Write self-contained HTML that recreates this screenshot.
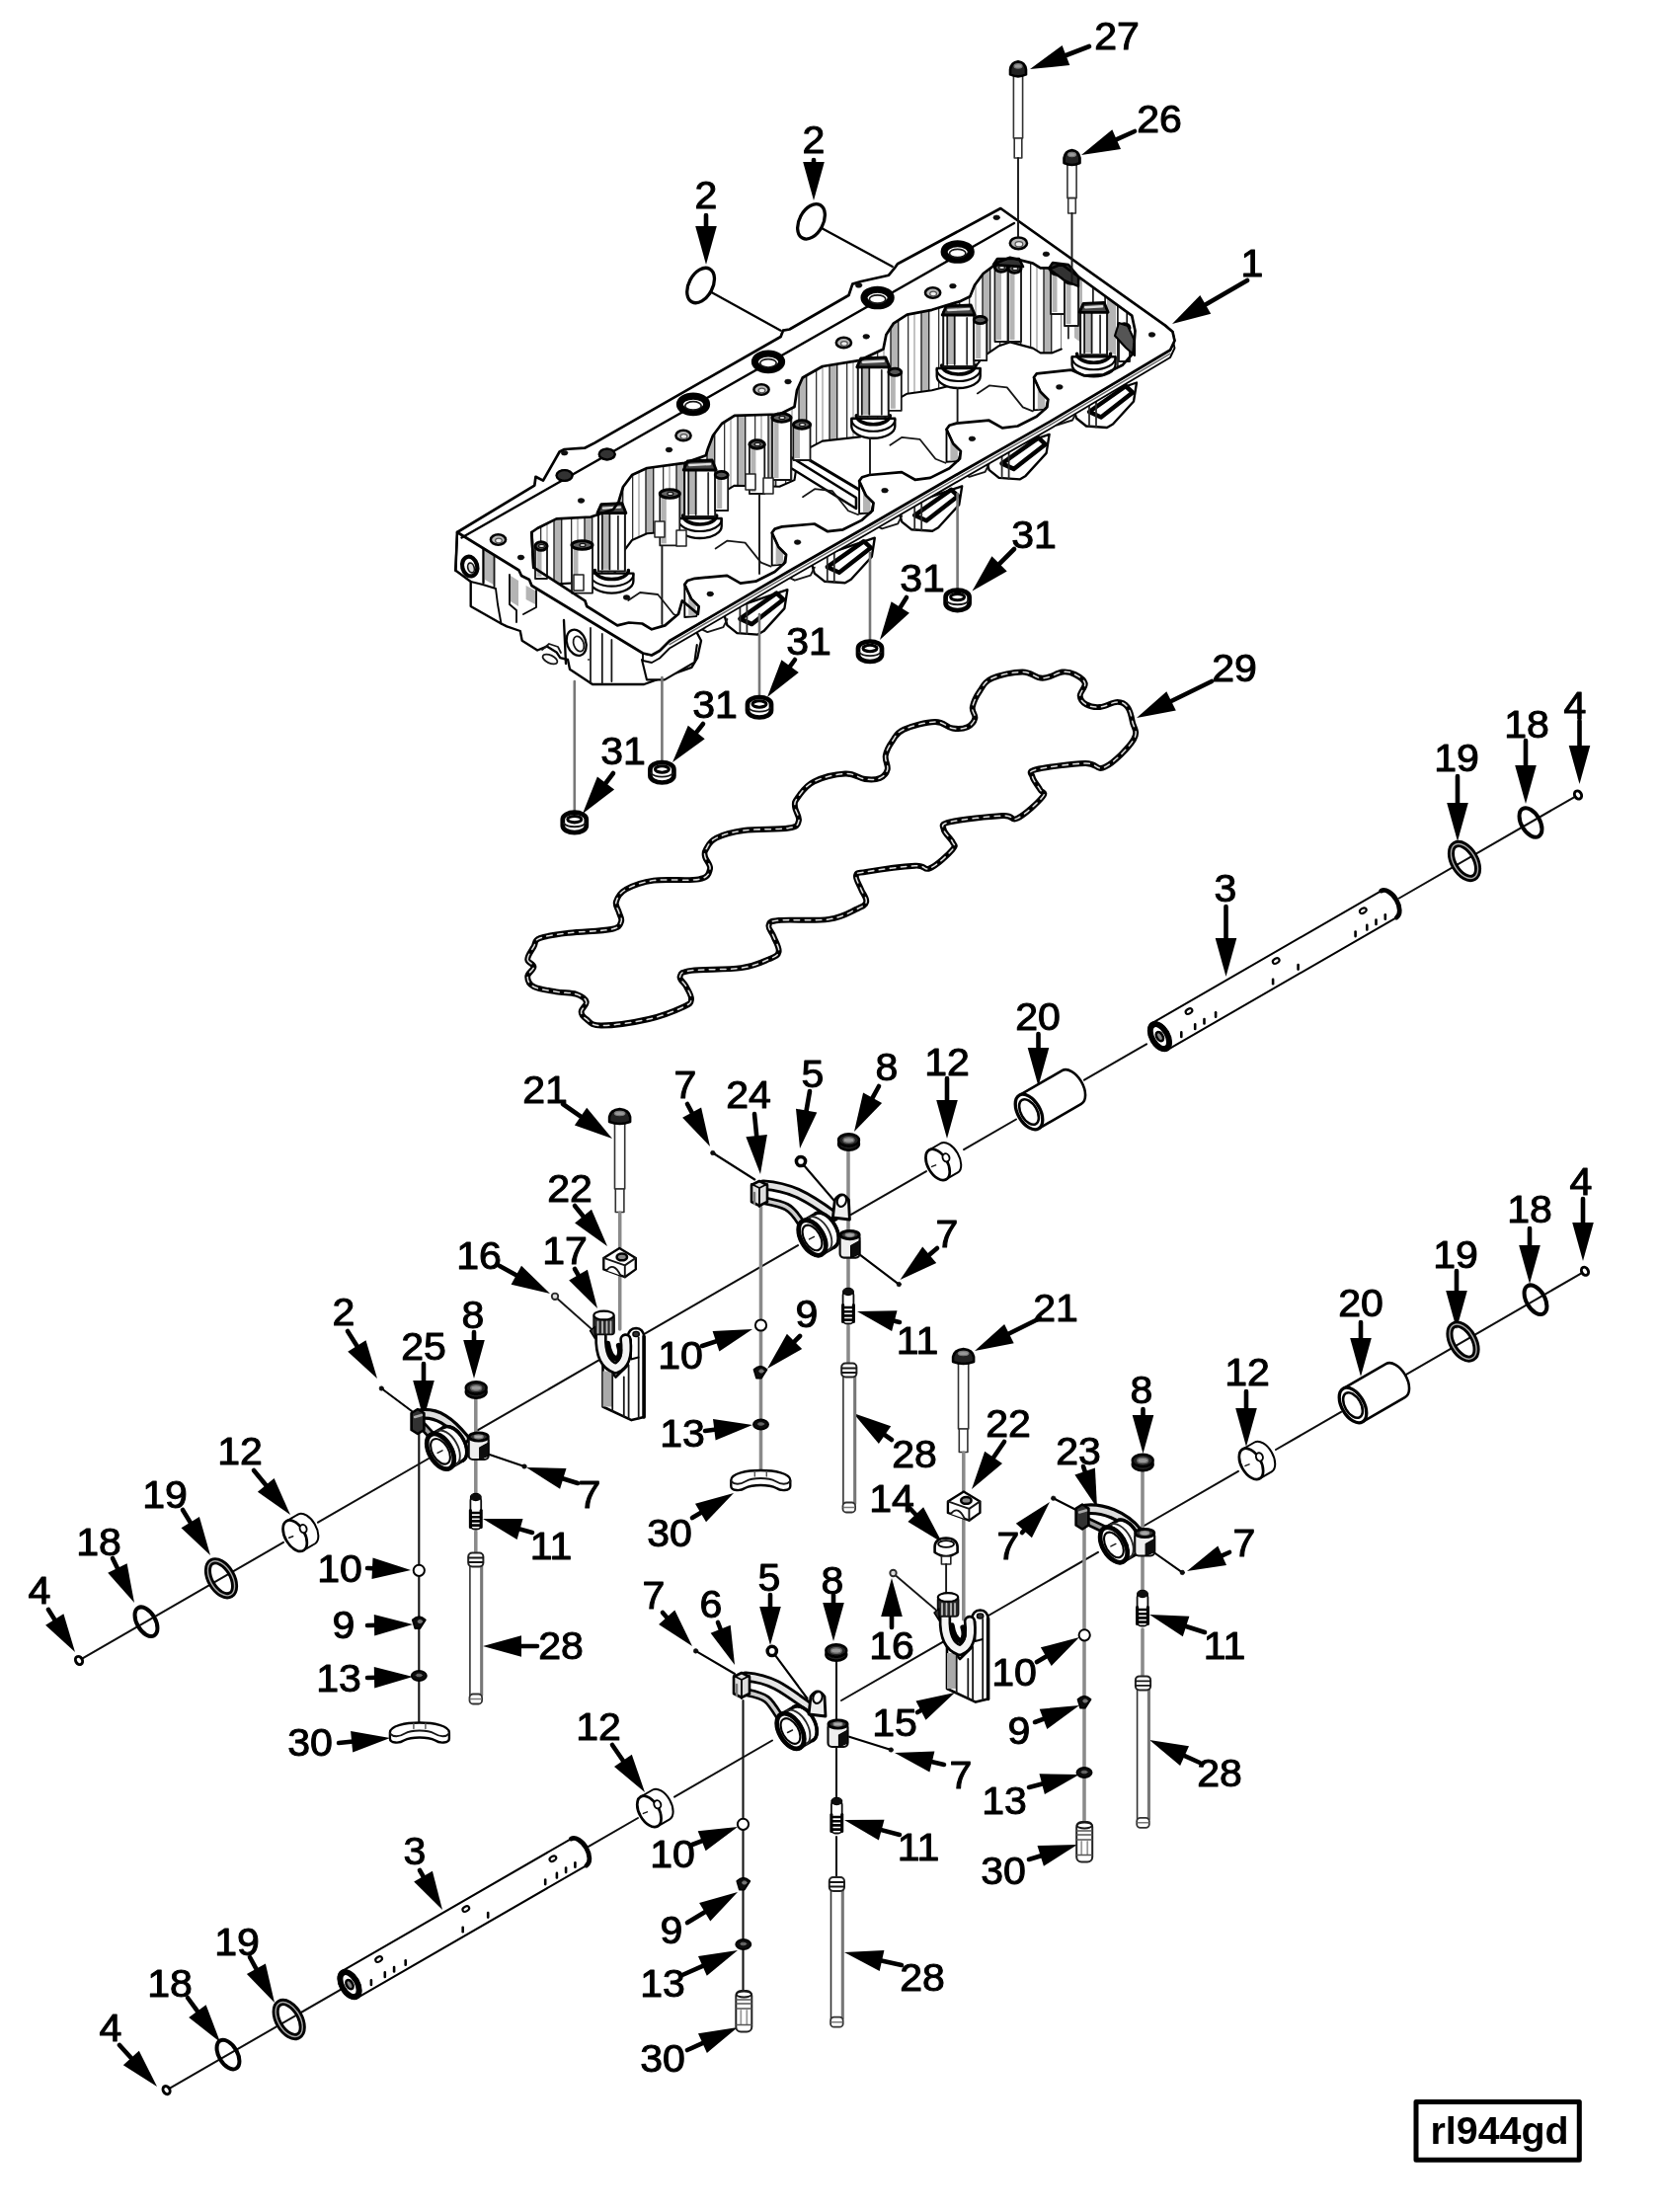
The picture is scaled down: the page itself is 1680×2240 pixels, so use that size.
<!DOCTYPE html>
<html><head><meta charset="utf-8"><title>rl944gd</title>
<style>html,body{margin:0;padding:0;background:#fff}svg{display:block}text{font-family:"Liberation Sans",sans-serif;fill:#000}</style>
</head><body>
<svg width="1680" height="2240" viewBox="0 0 1680 2240">
<defs><filter id="b" x="0" y="0" width="100%" height="100%" filterUnits="userSpaceOnUse"><feGaussianBlur stdDeviation="0.7"/></filter></defs>
<rect width="1680" height="2240" fill="#fff"/>
<g filter="url(#b)" stroke-linecap="round" stroke-linejoin="round">
<path d="M463.0,539.0 L461.2,577.5 L476.7,589.0 L476.7,614.0 L507.5,631.5 L513.3,634.4 L526.8,639.0 L528.7,648.8 L544.2,658.5 L553.8,654.6 L563.5,660.4 L567.3,666.2 L575.0,668.0 L577.0,677.8 L600.0,693.0 L652.2,693.0 L667.6,687.4 L700.4,675.8 L706.2,666.2 L710.0,648.8 L700.0,630.0 L540.0,570.0 Z" fill="#fff" stroke="#000" stroke-width="2.36" />
<path d="M491.0,556.0 L499.8,561.0 L499.8,592.0 L491.0,587.0 Z" fill="#b4b4b4" stroke="none" stroke-width="0.1" />
<path d="M517.0,583.0 L525.0,588.0 L525.0,614.0 L517.0,609.0 Z" fill="#b4b4b4" stroke="none" stroke-width="0.1" />
<path d="M532.6,593.0 L542.0,598.0 L542.0,612.0 L532.6,607.0 Z" fill="#b4b4b4" stroke="none" stroke-width="0.1" />
<line x1="489.5" y1="555.0" x2="489.5" y2="590.0" stroke="#000" stroke-width="2.36"/>
<line x1="500.5" y1="561.0" x2="500.5" y2="594.0" stroke="#161616" stroke-width="1.888"/>
<path d="M476.7,589.0 L489.0,592.0 L502.0,596.0 L504.0,612.0 L507.5,631.5" fill="none" stroke="#060606" stroke-width="1.888" />
<path d="M516.0,582.0 L516.0,612.0 L523.0,618.0 L523.0,630.0" fill="none" stroke="#060606" stroke-width="1.888" />
<path d="M543.0,598.0 L543.0,615.0 L530.0,622.0" fill="none" stroke="#060606" stroke-width="1.888" />
<ellipse cx="475.7" cy="573.6" rx="7.5" ry="10" transform="rotate(-15 475.7 573.6)" fill="#fff" stroke="#000" stroke-width="4.248"/>
<ellipse cx="477.0" cy="575.0" rx="3.2" ry="5" transform="rotate(-15 477.0 575.0)" fill="#ddd" stroke="#161616" stroke-width="1.652"/>
<ellipse cx="583.7" cy="650.8" rx="9.5" ry="13.5" transform="rotate(-20 583.7 650.8)" fill="#fff" stroke="#060606" stroke-width="2.36"/>
<ellipse cx="586.0" cy="652.0" rx="5" ry="8" transform="rotate(-20 586.0 652.0)" fill="#fff" stroke="#161616" stroke-width="1.77"/>
<path d="M571.0,628.0 L573.0,672.0" fill="none" stroke="#060606" stroke-width="2.36" />
<line x1="598.0" y1="636.0" x2="598.0" y2="692.0" stroke="#161616" stroke-width="1.77"/>
<line x1="609.8" y1="642.0" x2="609.8" y2="692.0" stroke="#161616" stroke-width="1.77"/>
<line x1="619.4" y1="648.0" x2="619.4" y2="690.0" stroke="#161616" stroke-width="1.77"/>
<line x1="596.0" y1="668.0" x2="596.0" y2="668.0" stroke="#161616" stroke-width="1.77"/>
<path d="M549.0,658.0 L556.0,652.0 L565.0,655.0 L568.0,661.0" fill="none" stroke="#161616" stroke-width="1.77" />
<ellipse cx="557.0" cy="667.5" rx="8" ry="4" transform="rotate(25 557.0 667.5)" fill="#fff" stroke="#161616" stroke-width="1.77"/>
<path d="M1086.0,409.5 L1090.0,423.5 L1100.0,431.5 L1121.0,433.0 L1127.0,429.5 L1148.0,406.5 L1151.0,387.5 Z" fill="#fff" stroke="#000" stroke-width="2.36" />
<path d="M1103.0,417.0 L1115.0,422.5 L1147.0,397.5 L1140.0,391.0 Z" fill="#fff" stroke="#000" stroke-width="4.484" />
<line x1="1103.0" y1="405.5" x2="1103.0" y2="431.5" stroke="#2a2a2a" stroke-width="1.77"/>
<line x1="1110.0" y1="401.5" x2="1110.0" y2="432.5" stroke="#2a2a2a" stroke-width="1.77"/>
<path d="M1060.0,425.5 L1070.0,430.5 L1086.0,425.5 L1090.0,417.5" fill="none" stroke="#161616" stroke-width="1.888" />
<path d="M997.6,461.9 L1001.6,475.9 L1011.6,483.9 L1032.6,485.4 L1038.6,481.9 L1059.6,458.9 L1062.6,439.9 Z" fill="#fff" stroke="#000" stroke-width="2.36" />
<path d="M1014.6,469.4 L1026.6,474.9 L1058.6,449.9 L1051.6,443.4 Z" fill="#fff" stroke="#000" stroke-width="4.484" />
<line x1="1014.6" y1="457.9" x2="1014.6" y2="483.9" stroke="#2a2a2a" stroke-width="1.77"/>
<line x1="1021.6" y1="453.9" x2="1021.6" y2="484.9" stroke="#2a2a2a" stroke-width="1.77"/>
<path d="M971.6,477.9 L981.6,482.9 L997.6,477.9 L1001.6,469.9" fill="none" stroke="#161616" stroke-width="1.888" />
<path d="M909.2,514.3 L913.2,528.3 L923.2,536.3 L944.2,537.8 L950.2,534.3 L971.2,511.3 L974.2,492.3 Z" fill="#fff" stroke="#000" stroke-width="2.36" />
<path d="M926.2,521.8 L938.2,527.3 L970.2,502.3 L963.2,495.8 Z" fill="#fff" stroke="#000" stroke-width="4.484" />
<line x1="926.2" y1="510.3" x2="926.2" y2="536.3" stroke="#2a2a2a" stroke-width="1.77"/>
<line x1="933.2" y1="506.3" x2="933.2" y2="537.3" stroke="#2a2a2a" stroke-width="1.77"/>
<path d="M883.2,530.3 L893.2,535.3 L909.2,530.3 L913.2,522.3" fill="none" stroke="#161616" stroke-width="1.888" />
<path d="M820.8,566.7 L824.8,580.7 L834.8,588.7 L855.8,590.2 L861.8,586.7 L882.8,563.7 L885.8,544.7 Z" fill="#fff" stroke="#000" stroke-width="2.36" />
<path d="M837.8,574.2 L849.8,579.7 L881.8,554.7 L874.8,548.2 Z" fill="#fff" stroke="#000" stroke-width="4.484" />
<line x1="837.8" y1="562.7" x2="837.8" y2="588.7" stroke="#2a2a2a" stroke-width="1.77"/>
<line x1="844.8" y1="558.7" x2="844.8" y2="589.7" stroke="#2a2a2a" stroke-width="1.77"/>
<path d="M794.8,582.7 L804.8,587.7 L820.8,582.7 L824.8,574.7" fill="none" stroke="#161616" stroke-width="1.888" />
<path d="M732.4,619.1 L736.4,633.1 L746.4,641.1 L767.4,642.6 L773.4,639.1 L794.4,616.1 L797.4,597.1 Z" fill="#fff" stroke="#000" stroke-width="2.36" />
<path d="M749.4,626.6 L761.4,632.1 L793.4,607.1 L786.4,600.6 Z" fill="#fff" stroke="#000" stroke-width="4.484" />
<line x1="749.4" y1="615.1" x2="749.4" y2="641.1" stroke="#2a2a2a" stroke-width="1.77"/>
<line x1="756.4" y1="611.1" x2="756.4" y2="642.1" stroke="#2a2a2a" stroke-width="1.77"/>
<path d="M706.4,635.1 L716.4,640.1 L732.4,635.1 L736.4,627.1" fill="none" stroke="#161616" stroke-width="1.888" />
<path d="M650.0,668.0 L655.0,688.4 L673.0,688.4 L703.3,670.6 L705.8,653.0" fill="#fff" stroke="#060606" stroke-width="2.124" />
<path d="M1179.7,329.4 L1187.5,336.0 L1189.5,345.0 L1185.0,354.5 L1063.3,426.8 L974.7,477.2 L881.0,531.5 L800.0,577.8 L678.0,649.0 L668.0,659.0 L660.0,663.5 L651.0,661.5 L651.0,669.0 L660.0,671.0 L668.0,666.5 L678.0,656.5 L800.0,585.3 L881.0,539.0 L974.7,484.7 L1063.3,434.3 L1185.0,362.0 L1189.5,352.5 L1187.5,343.5 L1179.7,336.9 Z" fill="#fff" stroke="#060606" stroke-width="1.888" />
<line x1="1185.0" y1="358.1" x2="1063.3" y2="430.4" stroke="#666" stroke-width="1.416"/>
<line x1="1063.3" y1="430.4" x2="974.7" y2="480.8" stroke="#666" stroke-width="1.416"/>
<line x1="974.7" y1="480.8" x2="881.0" y2="535.1" stroke="#666" stroke-width="1.416"/>
<line x1="881.0" y1="535.1" x2="800.0" y2="581.4" stroke="#666" stroke-width="1.416"/>
<line x1="800.0" y1="581.4" x2="678.0" y2="652.6" stroke="#666" stroke-width="1.416"/>
<path d="M463.0,539.0 L541.3,491.6 L542.5,482.8 L550.0,486.6 L563.0,463.8 L566.6,457.5 L571.6,455.0 L592.0,453.7 L602.0,448.6 L790.6,341.0 L793.0,334.7 L799.5,333.5 L859.5,299.0 L863.3,287.6 L872.0,285.0 L900.0,278.7 L906.3,271.0 L908.9,267.3 L1013.3,211.0 L1179.7,329.4 L1187.5,336.0 L1189.5,345.0 L1185.0,354.5 L1063.3,426.8 L974.7,477.2 L881.0,531.5 L800.0,577.8 L678.0,649.0 L668.0,659.0 L660.0,663.5 L651.0,661.5 L538.4,593.0 L536.0,587.0 L528.0,583.0 L525.5,577.5 Z" fill="#fff" stroke="#000" stroke-width="2.7139999999999995" />
<line x1="467.5" y1="544.5" x2="1027.0" y2="226.0" stroke="#000" stroke-width="2.36"/>
<line x1="463.0" y1="539.0" x2="461.5" y2="578.0" stroke="#000" stroke-width="2.36"/>
<ellipse cx="702.0" cy="409.4" rx="13.6" ry="8.3" transform="rotate(0 702.0 409.4)" fill="#fff" stroke="#000" stroke-width="7.08"/>
<ellipse cx="702.0" cy="410.9" rx="8.2" ry="4.2" transform="rotate(0 702.0 410.9)" fill="#fff" stroke="#161616" stroke-width="1.652"/>
<ellipse cx="778.0" cy="366.3" rx="13.6" ry="8.3" transform="rotate(0 778.0 366.3)" fill="#fff" stroke="#000" stroke-width="7.08"/>
<ellipse cx="778.0" cy="367.8" rx="8.2" ry="4.2" transform="rotate(0 778.0 367.8)" fill="#fff" stroke="#161616" stroke-width="1.652"/>
<ellipse cx="888.6" cy="301.5" rx="13.6" ry="8.3" transform="rotate(0 888.6 301.5)" fill="#fff" stroke="#000" stroke-width="7.08"/>
<ellipse cx="888.6" cy="303.0" rx="8.2" ry="4.2" transform="rotate(0 888.6 303.0)" fill="#fff" stroke="#161616" stroke-width="1.652"/>
<ellipse cx="969.7" cy="255.0" rx="13.6" ry="8.3" transform="rotate(0 969.7 255.0)" fill="#fff" stroke="#000" stroke-width="7.08"/>
<ellipse cx="969.7" cy="256.5" rx="8.2" ry="4.2" transform="rotate(0 969.7 256.5)" fill="#fff" stroke="#161616" stroke-width="1.652"/>
<ellipse cx="1031.4" cy="246.3" rx="8.6" ry="5.8" transform="rotate(0 1031.4 246.3)" fill="#bbb" stroke="#060606" stroke-width="2.596"/>
<ellipse cx="1031.9" cy="247.3" rx="3.87" ry="2.61" transform="rotate(0 1031.9 247.3)" fill="#eee" stroke="#555" stroke-width="1.18"/>
<ellipse cx="944.6" cy="296.5" rx="7.6" ry="5.2" transform="rotate(0 944.6 296.5)" fill="#bbb" stroke="#060606" stroke-width="2.596"/>
<ellipse cx="945.1" cy="297.5" rx="3.42" ry="2.3400000000000003" transform="rotate(0 945.1 297.5)" fill="#eee" stroke="#555" stroke-width="1.18"/>
<ellipse cx="854.4" cy="347.0" rx="7.6" ry="5.2" transform="rotate(0 854.4 347.0)" fill="#bbb" stroke="#060606" stroke-width="2.596"/>
<ellipse cx="854.9" cy="348.0" rx="3.42" ry="2.3400000000000003" transform="rotate(0 854.9 348.0)" fill="#eee" stroke="#555" stroke-width="1.18"/>
<ellipse cx="771.0" cy="394.5" rx="7.6" ry="5.2" transform="rotate(0 771.0 394.5)" fill="#bbb" stroke="#060606" stroke-width="2.596"/>
<ellipse cx="771.5" cy="395.5" rx="3.42" ry="2.3400000000000003" transform="rotate(0 771.5 395.5)" fill="#eee" stroke="#555" stroke-width="1.18"/>
<ellipse cx="692.0" cy="441.0" rx="7.6" ry="5.2" transform="rotate(0 692.0 441.0)" fill="#bbb" stroke="#060606" stroke-width="2.596"/>
<ellipse cx="692.5" cy="442.0" rx="3.42" ry="2.3400000000000003" transform="rotate(0 692.5 442.0)" fill="#eee" stroke="#555" stroke-width="1.18"/>
<ellipse cx="614.7" cy="460.0" rx="7.6" ry="5.2" transform="rotate(0 614.7 460.0)" fill="#bbb" stroke="#060606" stroke-width="2.596"/>
<ellipse cx="615.2" cy="461.0" rx="3.42" ry="2.3400000000000003" transform="rotate(0 615.2 461.0)" fill="#eee" stroke="#555" stroke-width="1.18"/>
<ellipse cx="571.6" cy="481.5" rx="7.6" ry="5.2" transform="rotate(0 571.6 481.5)" fill="#bbb" stroke="#060606" stroke-width="2.596"/>
<ellipse cx="572.1" cy="482.5" rx="3.42" ry="2.3400000000000003" transform="rotate(0 572.1 482.5)" fill="#eee" stroke="#555" stroke-width="1.18"/>
<ellipse cx="504.5" cy="546.5" rx="7.6" ry="5.2" transform="rotate(0 504.5 546.5)" fill="#bbb" stroke="#060606" stroke-width="2.596"/>
<ellipse cx="505.0" cy="547.5" rx="3.42" ry="2.3400000000000003" transform="rotate(0 505.0 547.5)" fill="#eee" stroke="#555" stroke-width="1.18"/>
<ellipse cx="614.7" cy="460.0" rx="8" ry="5.4" transform="rotate(0 614.7 460.0)" fill="#333" stroke="#000" stroke-width="2.36"/>
<ellipse cx="571.6" cy="481.5" rx="8" ry="5.4" transform="rotate(0 571.6 481.5)" fill="#333" stroke="#000" stroke-width="2.36"/>
<ellipse cx="1059.4" cy="257.3" rx="3.3" ry="2.4" transform="rotate(0 1059.4 257.3)" fill="#111" stroke="#000" stroke-width="0.5"/>
<ellipse cx="1009.2" cy="220.3" rx="3.3" ry="2.4" transform="rotate(0 1009.2 220.3)" fill="#111" stroke="#000" stroke-width="0.5"/>
<ellipse cx="964.9" cy="289.7" rx="3.3" ry="2.4" transform="rotate(0 964.9 289.7)" fill="#111" stroke="#000" stroke-width="0.5"/>
<ellipse cx="877.2" cy="340.8" rx="3.3" ry="2.4" transform="rotate(0 877.2 340.8)" fill="#111" stroke="#000" stroke-width="0.5"/>
<ellipse cx="798.0" cy="386.5" rx="3.3" ry="2.4" transform="rotate(0 798.0 386.5)" fill="#111" stroke="#000" stroke-width="0.5"/>
<ellipse cx="677.5" cy="455.5" rx="3.3" ry="2.4" transform="rotate(0 677.5 455.5)" fill="#111" stroke="#000" stroke-width="0.5"/>
<ellipse cx="588.5" cy="507.0" rx="3.3" ry="2.4" transform="rotate(0 588.5 507.0)" fill="#111" stroke="#000" stroke-width="0.5"/>
<ellipse cx="527.5" cy="564.5" rx="3.3" ry="2.4" transform="rotate(0 527.5 564.5)" fill="#111" stroke="#000" stroke-width="0.5"/>
<ellipse cx="1166.5" cy="338.9" rx="3.3" ry="2.4" transform="rotate(0 1166.5 338.9)" fill="#111" stroke="#000" stroke-width="0.5"/>
<ellipse cx="571.6" cy="458.7" rx="3.3" ry="2.4" transform="rotate(0 571.6 458.7)" fill="#111" stroke="#000" stroke-width="0.5"/>
<ellipse cx="869.6" cy="288.9" rx="3.3" ry="2.4" transform="rotate(0 869.6 288.9)" fill="#111" stroke="#000" stroke-width="0.5"/>
<clipPath id="cav"><path d="M1074.8,267.5 L1065.0,271.4 L1053.6,271.4 L1046.0,266.6 L1022.8,260.8 L1011.0,265.6 L995.7,277.0 L987.0,288.7 L982.3,300.3 L972.6,305.0 L943.7,313.8 L918.6,318.6 L905.0,327.3 L897.4,339.0 L894.5,353.5 L870.9,364.8 L832.9,371.0 L812.7,382.5 L807.0,395.4 L804.5,412.0 L789.4,419.5 L743.8,420.8 L731.0,429.0 L722.0,441.0 L717.0,454.0 L714.7,461.3 L693.2,468.9 L655.2,474.0 L640.0,481.0 L631.0,493.0 L626.5,508.0 L621.0,516.0 L598.2,523.5 L563.5,525.4 L544.2,535.0 L538.4,539.0 L540.3,574.6 L592.4,608.3 L594.3,614.0 L625.2,633.4 L636.8,630.5 L650.3,631.5 L660.0,637.3 L673.4,633.4 L687.0,621.8 L690.8,608.3 L706.8,621.8 L707.7,614.1 L700.0,606.4 L693.3,591.9 L696.2,588.0 L703.5,585.8 L736.3,582.9 L749.8,590.6 L765.3,588.7 L784.6,579.0 L795.2,569.4 L796.1,561.7 L788.4,554.0 L781.7,539.5 L784.6,535.6 L791.9,533.4 L824.7,530.5 L838.2,538.2 L853.7,536.3 L873.0,526.6 L883.6,517.0 L884.5,509.3 L876.8,501.6 L870.1,487.1 L873.0,483.2 L880.3,481.0 L913.1,478.1 L926.6,485.8 L942.1,483.9 L961.4,474.2 L972.0,464.6 L972.9,456.9 L965.2,449.2 L958.5,434.7 L961.4,430.8 L968.7,428.6 L1001.5,425.7 L1015.0,433.4 L1030.5,431.5 L1049.8,421.8 L1060.4,412.2 L1061.3,404.5 L1053.6,396.8 L1046.9,382.3 L1049.8,378.4 L1084.5,374.6 L1098.0,380.4 L1117.3,379.4 L1136.6,369.8 L1147.2,358.2 L1148.0,354.0 L1149.5,335.0 L1146.2,319.6 Z"/></clipPath>
<pattern id="stripes" width="31" height="10" patternUnits="userSpaceOnUse"><rect width="31" height="10" fill="#fff"/><rect x="3" y="0" width="7.5" height="10" fill="#b4b4b4"/><rect x="2.3" width="1.4" height="10" fill="#222"/><rect x="10" width="1.4" height="10" fill="#222"/><rect x="20" width="1.3" height="10" fill="#333"/><rect x="26.5" width="1" height="10" fill="#888"/></pattern>
<path d="M1074.8,267.5 L1065.0,271.4 L1053.6,271.4 L1046.0,266.6 L1022.8,260.8 L1011.0,265.6 L995.7,277.0 L987.0,288.7 L982.3,300.3 L972.6,305.0 L943.7,313.8 L918.6,318.6 L905.0,327.3 L897.4,339.0 L894.5,353.5 L870.9,364.8 L832.9,371.0 L812.7,382.5 L807.0,395.4 L804.5,412.0 L789.4,419.5 L743.8,420.8 L731.0,429.0 L722.0,441.0 L717.0,454.0 L714.7,461.3 L693.2,468.9 L655.2,474.0 L640.0,481.0 L631.0,493.0 L626.5,508.0 L621.0,516.0 L598.2,523.5 L563.5,525.4 L544.2,535.0 L538.4,539.0 L540.3,574.6 L592.4,608.3 L594.3,614.0 L625.2,633.4 L636.8,630.5 L650.3,631.5 L660.0,637.3 L673.4,633.4 L687.0,621.8 L690.8,608.3 L706.8,621.8 L707.7,614.1 L700.0,606.4 L693.3,591.9 L696.2,588.0 L703.5,585.8 L736.3,582.9 L749.8,590.6 L765.3,588.7 L784.6,579.0 L795.2,569.4 L796.1,561.7 L788.4,554.0 L781.7,539.5 L784.6,535.6 L791.9,533.4 L824.7,530.5 L838.2,538.2 L853.7,536.3 L873.0,526.6 L883.6,517.0 L884.5,509.3 L876.8,501.6 L870.1,487.1 L873.0,483.2 L880.3,481.0 L913.1,478.1 L926.6,485.8 L942.1,483.9 L961.4,474.2 L972.0,464.6 L972.9,456.9 L965.2,449.2 L958.5,434.7 L961.4,430.8 L968.7,428.6 L1001.5,425.7 L1015.0,433.4 L1030.5,431.5 L1049.8,421.8 L1060.4,412.2 L1061.3,404.5 L1053.6,396.8 L1046.9,382.3 L1049.8,378.4 L1084.5,374.6 L1098.0,380.4 L1117.3,379.4 L1136.6,369.8 L1147.2,358.2 L1148.0,354.0 L1149.5,335.0 L1146.2,319.6 Z" fill="#fff" stroke="#fff" stroke-width="0.1" />
<g clip-path="url(#cav)">
<path d="M1074.8,267.5 L1065.0,271.4 L1053.6,271.4 L1046.0,266.6 L1022.8,260.8 L1011.0,265.6 L995.7,277.0 L987.0,288.7 L982.3,300.3 L972.6,305.0 L943.7,313.8 L918.6,318.6 L905.0,327.3 L897.4,339.0 L894.5,353.5 L870.9,364.8 L832.9,371.0 L812.7,382.5 L807.0,395.4 L804.5,412.0 L789.4,419.5 L743.8,420.8 L731.0,429.0 L722.0,441.0 L717.0,454.0 L714.7,461.3 L693.2,468.9 L655.2,474.0 L640.0,481.0 L631.0,493.0 L626.5,508.0 L621.0,516.0 L598.2,523.5 L563.5,525.4 L544.2,535.0 L538.4,539.0 L538.4,605.0 L544.2,601.0 L563.5,591.4 L598.2,589.5 L621.0,582.0 L626.5,574.0 L631.0,559.0 L640.0,547.0 L655.2,540.3 L693.2,537.2 L714.7,530.7 L717.0,523.5 L722.0,510.8 L731.0,499.3 L743.8,491.7 L789.4,492.8 L804.5,486.1 L807.0,469.7 L812.7,457.1 L832.9,446.6 L870.9,442.4 L894.5,432.4 L897.4,418.0 L905.0,406.7 L918.6,398.7 L943.7,395.3 L972.6,388.0 L982.3,383.8 L987.0,372.4 L995.7,361.2 L1011.0,350.6 L1022.8,346.4 L1046.0,352.6 L1053.6,357.4 L1065.0,357.4 L1074.8,353.5 Z" fill="url(#stripes)" stroke="none" stroke-width="0.1" />
<path d="M1074.8,267.5 L1146.2,319.6 L1148.0,372.0 L1074.8,353.5 Z" fill="#fff" stroke="none" stroke-width="0.1" />
<line x1="1081.9" y1="272.7" x2="1081.9" y2="342.7" stroke="#161616" stroke-width="1.652"/>
<line x1="1094.8" y1="282.1" x2="1094.8" y2="352.1" stroke="#161616" stroke-width="1.652"/>
<line x1="1106.9" y1="290.9" x2="1106.9" y2="360.9" stroke="#161616" stroke-width="1.652"/>
<line x1="1119.1" y1="299.8" x2="1119.1" y2="369.8" stroke="#161616" stroke-width="1.652"/>
<line x1="1131.9" y1="309.2" x2="1131.9" y2="379.2" stroke="#161616" stroke-width="1.652"/>
<line x1="1141.2" y1="316.0" x2="1141.2" y2="386.0" stroke="#161616" stroke-width="1.652"/>
<path d="M1088.0,277.0 L1096.0,283.0 L1096.0,348.0 L1088.0,342.0 Z" fill="#b4b4b4" stroke="none" stroke-width="0.1" />
<path d="M1121.0,301.0 L1130.0,307.5 L1130.0,360.0 L1121.0,354.0 Z" fill="#b4b4b4" stroke="none" stroke-width="0.1" />
<path d="M1074.8,353.5 L1065.0,357.4 L1053.6,357.4 L1046.0,352.6 L1022.8,346.4 L1011.0,350.6 L995.7,361.2 L987.0,372.4 L982.3,383.8 L972.6,388.0 L943.7,395.3 L918.6,398.7 L905.0,406.7 L897.4,418.0 L894.5,432.4 L870.9,442.4 L832.9,446.6 L812.7,457.1 L807.0,469.7 L804.5,486.1 L789.4,492.8 L743.8,491.7 L731.0,499.3 L722.0,510.8 L717.0,523.5 L714.7,530.7 L693.2,537.2 L655.2,540.3 L640.0,547.0 L631.0,559.0 L626.5,574.0 L621.0,582.0 L598.2,589.5 L563.5,591.4 L544.2,601.0 L538.4,605.0" fill="none" stroke="#060606" stroke-width="2.124" />
<path d="M801.0,463.0 L867.0,504.0 L867.0,515.0 L801.0,474.0 Z" fill="#fff" stroke="#000" stroke-width="2.596" />
<line x1="809.0" y1="459.5" x2="872.0" y2="497.0" stroke="#000" stroke-width="3.068"/>
<path d="M989.8,398.4 L1001.8,390.4 L1019.8,392.4 L1035.8,412.4 L1045.8,416.4" fill="none" stroke="#161616" stroke-width="1.77" />
<path d="M901.4,450.8 L913.4,442.8 L931.4,444.8 L947.4,464.8 L957.4,468.8" fill="none" stroke="#161616" stroke-width="1.77" />
<path d="M813.0,503.2 L825.0,495.2 L843.0,497.2 L859.0,517.2 L869.0,521.2" fill="none" stroke="#161616" stroke-width="1.77" />
<path d="M724.6,555.6 L736.6,547.6 L754.6,549.6 L770.6,569.6 L780.6,573.6" fill="none" stroke="#161616" stroke-width="1.77" />
<path d="M636.2,608.0 L648.2,600.0 L666.2,602.0 L682.2,622.0 L692.2,626.0" fill="none" stroke="#161616" stroke-width="1.77" />
</g>
<rect x="1007.5" y="271.0" width="13.0" height="75.0" fill="#fff" stroke="#151515" stroke-width="1.8"/>
<rect x="1009.0" y="274.0" width="5" height="70.0" fill="#b4b4b4"/>
<ellipse cx="1014.0" cy="271.0" rx="6.5" ry="4.2" transform="rotate(0 1014.0 271.0)" fill="#666" stroke="#000" stroke-width="3.068"/>
<ellipse cx="1014.5" cy="271.0" rx="3" ry="1.6" transform="rotate(0 1014.5 271.0)" fill="#ddd" stroke="#161616" stroke-width="1.18"/>
<rect x="1021.0" y="272.0" width="13.0" height="74.0" fill="#fff" stroke="#151515" stroke-width="1.8"/>
<rect x="1022.5" y="275.0" width="5" height="69.0" fill="#b4b4b4"/>
<ellipse cx="1027.5" cy="272.0" rx="6.5" ry="4.2" transform="rotate(0 1027.5 272.0)" fill="#666" stroke="#000" stroke-width="3.068"/>
<ellipse cx="1028.0" cy="272.0" rx="3" ry="1.6" transform="rotate(0 1028.0 272.0)" fill="#ddd" stroke="#161616" stroke-width="1.18"/>
<path d="M1006,268 L1010,262 L1032,262 L1036,270 Z" fill="#333" stroke="#000" stroke-width="2.596" />
<rect x="1064.0" y="274.0" width="14.0" height="44.0" fill="#fff" stroke="#151515" stroke-width="1.8"/>
<rect x="1065.5" y="277.0" width="5" height="39.0" fill="#b4b4b4"/>
<ellipse cx="1071.0" cy="274.0" rx="7" ry="4.2" transform="rotate(0 1071.0 274.0)" fill="#666" stroke="#000" stroke-width="3.068"/>
<ellipse cx="1071.5" cy="274.0" rx="3" ry="1.6" transform="rotate(0 1071.5 274.0)" fill="#ddd" stroke="#161616" stroke-width="1.18"/>
<rect x="1078.0" y="283.0" width="14.0" height="47.0" fill="#fff" stroke="#151515" stroke-width="1.8"/>
<rect x="1079.5" y="286.0" width="5" height="42.0" fill="#b4b4b4"/>
<ellipse cx="1085.0" cy="283.0" rx="7" ry="4.2" transform="rotate(0 1085.0 283.0)" fill="#666" stroke="#000" stroke-width="3.068"/>
<ellipse cx="1085.5" cy="283.0" rx="3" ry="1.6" transform="rotate(0 1085.5 283.0)" fill="#ddd" stroke="#161616" stroke-width="1.18"/>
<path d="M1062,272 L1066,266 L1082,268 L1092,280 L1092,290 L1078,284 Z" fill="#333" stroke="#000" stroke-width="2.36" />
<path d="M1085.6,361.3 L1085.6,369.3 A22,12 0 0 0 1129.6,369.3 L1129.6,361.3 Z" fill="#fff" stroke="#000" stroke-width="2.36" />
<path d="M1085.6,362.3 A22,12 0 0 0 1129.6,362.3" fill="none" stroke="#060606" stroke-width="2.124" />
<path d="M1090.6,358.3 A17,9 0 0 0 1124.6,358.3" fill="none" stroke="#000" stroke-width="3.54" />
<rect x="1094.1" y="313.3" width="27.0" height="46.0" fill="#fff" stroke="#151515" stroke-width="2"/>
<rect x="1098.1" y="317.3" width="7.5" height="40.0" fill="#b4b4b4"/>
<line x1="1098.1" y1="317.3" x2="1098.1" y2="357.3" stroke="#161616" stroke-width="1.77"/>
<line x1="1105.6" y1="317.3" x2="1105.6" y2="357.3" stroke="#161616" stroke-width="1.77"/>
<line x1="1114.1" y1="319.3" x2="1114.1" y2="357.3" stroke="#2a2a2a" stroke-width="1.77"/>
<path d="M1093.1,316.3 L1097.1,307.3 L1118.1,306.3 L1122.1,316.3 Z" fill="#444" stroke="#000" stroke-width="2.832" />
<line x1="1099.1" y1="311.3" x2="1116.1" y2="310.3" stroke="#ddd" stroke-width="2.36"/>
<rect x="1133.0" y="332.0" width="11.0" height="34.0" fill="#fff" stroke="#151515" stroke-width="1.8"/>
<ellipse cx="1138.5" cy="332.0" rx="5.5" ry="4.2" transform="rotate(0 1138.5 332.0)" fill="#666" stroke="#000" stroke-width="3.068"/>
<ellipse cx="1139.0" cy="332.0" rx="3" ry="1.6" transform="rotate(0 1139.0 332.0)" fill="#ddd" stroke="#161616" stroke-width="1.18"/>
<path d="M1129,340 L1133,327 L1142,330 L1149,345 L1149,360 L1140,352 Z" fill="#555" stroke="#000" stroke-width="2.124" />
<path d="M948.7,373.0 L948.7,381.0 A22,12 0 0 0 992.7,381.0 L992.7,373.0 Z" fill="#fff" stroke="#000" stroke-width="2.36" />
<path d="M948.7,374.0 A22,12 0 0 0 992.7,374.0" fill="none" stroke="#060606" stroke-width="2.124" />
<path d="M953.7,370.0 A17,9 0 0 0 987.7,370.0" fill="none" stroke="#000" stroke-width="3.54" />
<rect x="955.2" y="316.0" width="31.0" height="55.0" fill="#fff" stroke="#151515" stroke-width="2"/>
<rect x="959.2" y="320.0" width="7.5" height="49.0" fill="#b4b4b4"/>
<line x1="959.2" y1="320.0" x2="959.2" y2="369.0" stroke="#161616" stroke-width="1.77"/>
<line x1="966.7" y1="320.0" x2="966.7" y2="369.0" stroke="#161616" stroke-width="1.77"/>
<line x1="979.2" y1="322.0" x2="979.2" y2="369.0" stroke="#2a2a2a" stroke-width="1.77"/>
<path d="M954.2,319.0 L958.2,310.0 L983.2,309.0 L987.2,319.0 Z" fill="#444" stroke="#000" stroke-width="2.832" />
<line x1="960.2" y1="314.0" x2="981.2" y2="313.0" stroke="#ddd" stroke-width="2.36"/>
<rect x="986.2" y="324.0" width="13" height="41.0" fill="#fff" stroke="#151515" stroke-width="1.8"/>
<rect x="988.2" y="326.0" width="5" height="37.0" fill="#b4b4b4"/>
<ellipse cx="992.7" cy="324.0" rx="6.5" ry="3.6" transform="rotate(0 992.7 324.0)" fill="#555" stroke="#000" stroke-width="2.832"/>
<path d="M862.3,423.8 L862.3,431.8 A22,12 0 0 0 906.3,431.8 L906.3,423.8 Z" fill="#fff" stroke="#000" stroke-width="2.36" />
<path d="M862.3,424.8 A22,12 0 0 0 906.3,424.8" fill="none" stroke="#060606" stroke-width="2.124" />
<path d="M867.3,420.8 A17,9 0 0 0 901.3,420.8" fill="none" stroke="#000" stroke-width="3.54" />
<rect x="868.8" y="368.8" width="31.0" height="53.0" fill="#fff" stroke="#151515" stroke-width="2"/>
<rect x="872.8" y="372.8" width="7.5" height="47.0" fill="#b4b4b4"/>
<line x1="872.8" y1="372.8" x2="872.8" y2="419.8" stroke="#161616" stroke-width="1.77"/>
<line x1="880.3" y1="372.8" x2="880.3" y2="419.8" stroke="#161616" stroke-width="1.77"/>
<line x1="892.8" y1="374.8" x2="892.8" y2="419.8" stroke="#2a2a2a" stroke-width="1.77"/>
<path d="M867.8,371.8 L871.8,362.8 L896.8,361.8 L900.8,371.8 Z" fill="#444" stroke="#000" stroke-width="2.832" />
<line x1="873.8" y1="366.8" x2="894.8" y2="365.8" stroke="#ddd" stroke-width="2.36"/>
<rect x="899.8" y="376.8" width="13" height="39.0" fill="#fff" stroke="#151515" stroke-width="1.8"/>
<rect x="901.8" y="378.8" width="5" height="35.0" fill="#b4b4b4"/>
<ellipse cx="906.3" cy="376.8" rx="6.5" ry="3.6" transform="rotate(0 906.3 376.8)" fill="#555" stroke="#000" stroke-width="2.832"/>
<rect x="803.5" y="430.0" width="17.0" height="36.0" fill="#fff" stroke="#151515" stroke-width="1.8"/>
<rect x="805.0" y="433.0" width="5" height="31.0" fill="#b4b4b4"/>
<ellipse cx="812.0" cy="430.0" rx="8.5" ry="4.2" transform="rotate(0 812.0 430.0)" fill="#666" stroke="#000" stroke-width="3.068"/>
<ellipse cx="812.5" cy="430.0" rx="3" ry="1.6" transform="rotate(0 812.5 430.0)" fill="#ddd" stroke="#161616" stroke-width="1.18"/>
<rect x="782.0" y="423.0" width="19.0" height="63.0" fill="#fff" stroke="#151515" stroke-width="1.8"/>
<rect x="783.5" y="426.0" width="5" height="58.0" fill="#b4b4b4"/>
<ellipse cx="791.5" cy="423.0" rx="9.5" ry="4.2" transform="rotate(0 791.5 423.0)" fill="#666" stroke="#000" stroke-width="3.068"/>
<ellipse cx="792.0" cy="423.0" rx="3" ry="1.6" transform="rotate(0 792.0 423.0)" fill="#ddd" stroke="#161616" stroke-width="1.18"/>
<rect x="758.9" y="450.0" width="15.4" height="50.0" fill="#fff" stroke="#151515" stroke-width="1.8"/>
<rect x="760.4" y="453.0" width="5" height="45.0" fill="#b4b4b4"/>
<ellipse cx="766.6" cy="450.0" rx="7.7" ry="4.2" transform="rotate(0 766.6 450.0)" fill="#666" stroke="#000" stroke-width="3.068"/>
<ellipse cx="767.1" cy="450.0" rx="3" ry="1.6" transform="rotate(0 767.1 450.0)" fill="#ddd" stroke="#161616" stroke-width="1.18"/>
<path d="M686.7,525.0 L686.7,533.0 A22,12 0 0 0 730.7,533.0 L730.7,525.0 Z" fill="#fff" stroke="#000" stroke-width="2.36" />
<path d="M686.7,526.0 A22,12 0 0 0 730.7,526.0" fill="none" stroke="#060606" stroke-width="2.124" />
<path d="M691.7,522.0 A17,9 0 0 0 725.7,522.0" fill="none" stroke="#000" stroke-width="3.54" />
<rect x="693.2" y="473.0" width="31.0" height="50.0" fill="#fff" stroke="#151515" stroke-width="2"/>
<rect x="697.2" y="477.0" width="7.5" height="44.0" fill="#b4b4b4"/>
<line x1="697.2" y1="477.0" x2="697.2" y2="521.0" stroke="#161616" stroke-width="1.77"/>
<line x1="704.7" y1="477.0" x2="704.7" y2="521.0" stroke="#161616" stroke-width="1.77"/>
<line x1="717.2" y1="479.0" x2="717.2" y2="521.0" stroke="#2a2a2a" stroke-width="1.77"/>
<path d="M692.2,476.0 L696.2,467.0 L721.2,466.0 L725.2,476.0 Z" fill="#444" stroke="#000" stroke-width="2.832" />
<line x1="698.2" y1="471.0" x2="719.2" y2="470.0" stroke="#ddd" stroke-width="2.36"/>
<rect x="724.2" y="481.0" width="13" height="36.0" fill="#fff" stroke="#151515" stroke-width="1.8"/>
<rect x="726.2" y="483.0" width="5" height="32.0" fill="#b4b4b4"/>
<ellipse cx="730.7" cy="481.0" rx="6.5" ry="3.6" transform="rotate(0 730.7 481.0)" fill="#555" stroke="#000" stroke-width="2.832"/>
<rect x="668.3" y="500.0" width="20.0" height="52.4" fill="#fff" stroke="#151515" stroke-width="1.8"/>
<rect x="669.8" y="503.0" width="5" height="47.4" fill="#b4b4b4"/>
<ellipse cx="678.3" cy="500.0" rx="10" ry="4.2" transform="rotate(0 678.3 500.0)" fill="#666" stroke="#000" stroke-width="3.068"/>
<ellipse cx="678.8" cy="500.0" rx="3" ry="1.6" transform="rotate(0 678.8 500.0)" fill="#ddd" stroke="#161616" stroke-width="1.18"/>
<path d="M597.4,580.6 L597.4,588.6 A22,12 0 0 0 641.4,588.6 L641.4,580.6 Z" fill="#fff" stroke="#000" stroke-width="2.36" />
<path d="M597.4,581.6 A22,12 0 0 0 641.4,581.6" fill="none" stroke="#060606" stroke-width="2.124" />
<path d="M602.4,577.6 A17,9 0 0 0 636.4,577.6" fill="none" stroke="#000" stroke-width="3.54" />
<rect x="605.9" y="516.6" width="27.0" height="62.0" fill="#fff" stroke="#151515" stroke-width="2"/>
<rect x="609.9" y="520.6" width="7.5" height="56.0" fill="#b4b4b4"/>
<line x1="609.9" y1="520.6" x2="609.9" y2="576.6" stroke="#161616" stroke-width="1.77"/>
<line x1="617.4" y1="520.6" x2="617.4" y2="576.6" stroke="#161616" stroke-width="1.77"/>
<line x1="625.9" y1="522.6" x2="625.9" y2="576.6" stroke="#2a2a2a" stroke-width="1.77"/>
<path d="M604.9,519.6 L608.9,510.6 L629.9,509.6 L633.9,519.6 Z" fill="#444" stroke="#000" stroke-width="2.832" />
<line x1="610.9" y1="514.6" x2="627.9" y2="513.6" stroke="#ddd" stroke-width="2.36"/>
<rect x="579.0" y="552.0" width="21.0" height="48.6" fill="#fff" stroke="#151515" stroke-width="1.8"/>
<rect x="580.5" y="555.0" width="5" height="43.6" fill="#b4b4b4"/>
<ellipse cx="589.5" cy="552.0" rx="10.5" ry="4.2" transform="rotate(0 589.5 552.0)" fill="#666" stroke="#000" stroke-width="3.068"/>
<ellipse cx="590.0" cy="552.0" rx="3" ry="1.6" transform="rotate(0 590.0 552.0)" fill="#ddd" stroke="#161616" stroke-width="1.18"/>
<rect x="542.0" y="553.0" width="12.0" height="33.0" fill="#fff" stroke="#151515" stroke-width="1.8"/>
<rect x="543.5" y="556.0" width="5" height="28.0" fill="#b4b4b4"/>
<ellipse cx="548.0" cy="553.0" rx="6" ry="4.2" transform="rotate(0 548.0 553.0)" fill="#666" stroke="#000" stroke-width="3.068"/>
<ellipse cx="548.5" cy="553.0" rx="3" ry="1.6" transform="rotate(0 548.5 553.0)" fill="#ddd" stroke="#161616" stroke-width="1.18"/>
<rect x="663" y="528" width="10" height="16" fill="#fff" stroke="#222" stroke-width="1.5"/>
<rect x="685" y="537" width="10" height="16" fill="#fff" stroke="#222" stroke-width="1.5"/>
<rect x="581" y="582" width="10" height="16" fill="#fff" stroke="#222" stroke-width="1.5"/>
<rect x="755" y="480" width="10" height="16" fill="#fff" stroke="#222" stroke-width="1.5"/>
<rect x="773" y="484" width="10" height="16" fill="#fff" stroke="#222" stroke-width="1.5"/>
<path d="M1046.9,382.3 L1046.9,415.4 L1058.8,414.4 L1061.3,404.5 L1053.6,396.8 Z" fill="#fff" stroke="#060606" stroke-width="1.888" />
<path d="M1050.8,392.4 L1058.3,402.4 L1058.3,413.4 L1050.8,414.4 Z" fill="#b4b4b4" stroke="none" stroke-width="0.1" />
<path d="M958.5,434.7 L958.5,467.8 L970.4,466.8 L972.9,456.9 L965.2,449.2 Z" fill="#fff" stroke="#060606" stroke-width="1.888" />
<path d="M962.4,444.8 L969.9,454.8 L969.9,465.8 L962.4,466.8 Z" fill="#b4b4b4" stroke="none" stroke-width="0.1" />
<path d="M870.1,487.1 L870.1,520.2 L882.0,519.2 L884.5,509.3 L876.8,501.6 Z" fill="#fff" stroke="#060606" stroke-width="1.888" />
<path d="M874.0,497.2 L881.5,507.2 L881.5,518.2 L874.0,519.2 Z" fill="#b4b4b4" stroke="none" stroke-width="0.1" />
<path d="M781.7,539.5 L781.7,572.6 L793.6,571.6 L796.1,561.7 L788.4,554.0 Z" fill="#fff" stroke="#060606" stroke-width="1.888" />
<path d="M785.6,549.6 L793.1,559.6 L793.1,570.6 L785.6,571.6 Z" fill="#b4b4b4" stroke="none" stroke-width="0.1" />
<path d="M693.3,591.9 L693.3,625.0 L705.2,624.0 L707.7,614.1 L700.0,606.4 Z" fill="#fff" stroke="#060606" stroke-width="1.888" />
<path d="M697.2,602.0 L704.7,612.0 L704.7,623.0 L697.2,624.0 Z" fill="#b4b4b4" stroke="none" stroke-width="0.1" />
<path d="M1074.8,267.5 L1065.0,271.4 L1053.6,271.4 L1046.0,266.6 L1022.8,260.8 L1011.0,265.6 L995.7,277.0 L987.0,288.7 L982.3,300.3 L972.6,305.0 L943.7,313.8 L918.6,318.6 L905.0,327.3 L897.4,339.0 L894.5,353.5 L870.9,364.8 L832.9,371.0 L812.7,382.5 L807.0,395.4 L804.5,412.0 L789.4,419.5 L743.8,420.8 L731.0,429.0 L722.0,441.0 L717.0,454.0 L714.7,461.3 L693.2,468.9 L655.2,474.0 L640.0,481.0 L631.0,493.0 L626.5,508.0 L621.0,516.0 L598.2,523.5 L563.5,525.4 L544.2,535.0 L538.4,539.0 L540.3,574.6 L592.4,608.3 L594.3,614.0 L625.2,633.4 L636.8,630.5 L650.3,631.5 L660.0,637.3 L673.4,633.4 L687.0,621.8 L690.8,608.3 L706.8,621.8 L707.7,614.1 L700.0,606.4 L693.3,591.9 L696.2,588.0 L703.5,585.8 L736.3,582.9 L749.8,590.6 L765.3,588.7 L784.6,579.0 L795.2,569.4 L796.1,561.7 L788.4,554.0 L781.7,539.5 L784.6,535.6 L791.9,533.4 L824.7,530.5 L838.2,538.2 L853.7,536.3 L873.0,526.6 L883.6,517.0 L884.5,509.3 L876.8,501.6 L870.1,487.1 L873.0,483.2 L880.3,481.0 L913.1,478.1 L926.6,485.8 L942.1,483.9 L961.4,474.2 L972.0,464.6 L972.9,456.9 L965.2,449.2 L958.5,434.7 L961.4,430.8 L968.7,428.6 L1001.5,425.7 L1015.0,433.4 L1030.5,431.5 L1049.8,421.8 L1060.4,412.2 L1061.3,404.5 L1053.6,396.8 L1046.9,382.3 L1049.8,378.4 L1084.5,374.6 L1098.0,380.4 L1117.3,379.4 L1136.6,369.8 L1147.2,358.2 L1148.0,354.0 L1149.5,335.0 L1146.2,319.6 Z" fill="none" stroke="#000" stroke-width="2.7139999999999995" />
<line x1="538.4" y1="539.0" x2="540.3" y2="574.6" stroke="#000" stroke-width="2.596"/>
<ellipse cx="1072.8" cy="391.9" rx="3.3" ry="2.4" transform="rotate(0 1072.8 391.9)" fill="#111" stroke="#000" stroke-width="0.5"/>
<ellipse cx="984.4" cy="444.3" rx="3.3" ry="2.4" transform="rotate(0 984.4 444.3)" fill="#111" stroke="#000" stroke-width="0.5"/>
<ellipse cx="896.0" cy="496.7" rx="3.3" ry="2.4" transform="rotate(0 896.0 496.7)" fill="#111" stroke="#000" stroke-width="0.5"/>
<ellipse cx="807.6" cy="549.1" rx="3.3" ry="2.4" transform="rotate(0 807.6 549.1)" fill="#111" stroke="#000" stroke-width="0.5"/>
<ellipse cx="719.2" cy="601.5" rx="3.3" ry="2.4" transform="rotate(0 719.2 601.5)" fill="#111" stroke="#000" stroke-width="0.5"/>
<ellipse cx="634.5" cy="605.0" rx="3.3" ry="2.4" transform="rotate(0 634.5 605.0)" fill="#111" stroke="#000" stroke-width="0.5"/>
<line x1="969.6" y1="393.0" x2="969.6" y2="428.0" stroke="#161616" stroke-width="1.888"/>
<line x1="969.6" y1="500.0" x2="969.6" y2="598.0" stroke="#777" stroke-width="2.596"/>
<line x1="881.0" y1="444.0" x2="881.0" y2="480.0" stroke="#161616" stroke-width="1.888"/>
<line x1="881.0" y1="560.0" x2="881.0" y2="650.0" stroke="#777" stroke-width="2.596"/>
<line x1="769.0" y1="500.0" x2="769.0" y2="581.0" stroke="#161616" stroke-width="1.888"/>
<line x1="769.0" y1="622.0" x2="769.0" y2="706.0" stroke="#777" stroke-width="2.596"/>
<line x1="670.4" y1="553.0" x2="670.4" y2="632.0" stroke="#161616" stroke-width="1.888"/>
<line x1="670.4" y1="686.0" x2="670.4" y2="772.0" stroke="#777" stroke-width="2.596"/>
<line x1="581.8" y1="690.0" x2="581.8" y2="823.0" stroke="#777" stroke-width="2.596"/>
<text transform="translate(1131.0 49.6) scale(1.08 1)" font-size="38" text-anchor="middle" stroke="#000" stroke-width="1.0" stroke-linejoin="round">27</text>
<text transform="translate(1174.0 133.6) scale(1.08 1)" font-size="38" text-anchor="middle" stroke="#000" stroke-width="1.0" stroke-linejoin="round">26</text>
<text transform="translate(1268.0 279.6) scale(1.08 1)" font-size="38" text-anchor="middle" stroke="#000" stroke-width="1.0" stroke-linejoin="round">1</text>
<text transform="translate(824.0 154.6) scale(1.08 1)" font-size="38" text-anchor="middle" stroke="#000" stroke-width="1.0" stroke-linejoin="round">2</text>
<text transform="translate(715.0 210.6) scale(1.08 1)" font-size="38" text-anchor="middle" stroke="#000" stroke-width="1.0" stroke-linejoin="round">2</text>
<text transform="translate(1047.0 554.6) scale(1.08 1)" font-size="38" text-anchor="middle" stroke="#000" stroke-width="1.0" stroke-linejoin="round">31</text>
<text transform="translate(934.0 598.6) scale(1.08 1)" font-size="38" text-anchor="middle" stroke="#000" stroke-width="1.0" stroke-linejoin="round">31</text>
<text transform="translate(819.0 662.6) scale(1.08 1)" font-size="38" text-anchor="middle" stroke="#000" stroke-width="1.0" stroke-linejoin="round">31</text>
<text transform="translate(724.0 726.6) scale(1.08 1)" font-size="38" text-anchor="middle" stroke="#000" stroke-width="1.0" stroke-linejoin="round">31</text>
<text transform="translate(631.0 773.6) scale(1.08 1)" font-size="38" text-anchor="middle" stroke="#000" stroke-width="1.0" stroke-linejoin="round">31</text>
<text transform="translate(1250.0 689.6) scale(1.08 1)" font-size="38" text-anchor="middle" stroke="#000" stroke-width="1.0" stroke-linejoin="round">29</text>
<text transform="translate(1595.0 727.6) scale(1.08 1)" font-size="38" text-anchor="middle" stroke="#000" stroke-width="1.0" stroke-linejoin="round">4</text>
<text transform="translate(1546.0 746.6) scale(1.08 1)" font-size="38" text-anchor="middle" stroke="#000" stroke-width="1.0" stroke-linejoin="round">18</text>
<text transform="translate(1475.0 780.6) scale(1.08 1)" font-size="38" text-anchor="middle" stroke="#000" stroke-width="1.0" stroke-linejoin="round">19</text>
<text transform="translate(1241.0 912.6) scale(1.08 1)" font-size="38" text-anchor="middle" stroke="#000" stroke-width="1.0" stroke-linejoin="round">3</text>
<text transform="translate(1051.0 1042.6) scale(1.08 1)" font-size="38" text-anchor="middle" stroke="#000" stroke-width="1.0" stroke-linejoin="round">20</text>
<text transform="translate(959.0 1088.6) scale(1.08 1)" font-size="38" text-anchor="middle" stroke="#000" stroke-width="1.0" stroke-linejoin="round">12</text>
<text transform="translate(898.0 1093.6) scale(1.08 1)" font-size="38" text-anchor="middle" stroke="#000" stroke-width="1.0" stroke-linejoin="round">8</text>
<text transform="translate(959.0 1262.6) scale(1.08 1)" font-size="38" text-anchor="middle" stroke="#000" stroke-width="1.0" stroke-linejoin="round">7</text>
<text transform="translate(929.0 1370.6) scale(1.08 1)" font-size="38" text-anchor="middle" stroke="#000" stroke-width="1.0" stroke-linejoin="round">11</text>
<text transform="translate(1069.0 1337.6) scale(1.08 1)" font-size="38" text-anchor="middle" stroke="#000" stroke-width="1.0" stroke-linejoin="round">21</text>
<text transform="translate(926.0 1485.6) scale(1.08 1)" font-size="38" text-anchor="middle" stroke="#000" stroke-width="1.0" stroke-linejoin="round">28</text>
<text transform="translate(1021.0 1454.6) scale(1.08 1)" font-size="38" text-anchor="middle" stroke="#000" stroke-width="1.0" stroke-linejoin="round">22</text>
<text transform="translate(1092.0 1482.6) scale(1.08 1)" font-size="38" text-anchor="middle" stroke="#000" stroke-width="1.0" stroke-linejoin="round">23</text>
<text transform="translate(903.0 1530.6) scale(1.08 1)" font-size="38" text-anchor="middle" stroke="#000" stroke-width="1.0" stroke-linejoin="round">14</text>
<text transform="translate(1156.0 1420.6) scale(1.08 1)" font-size="38" text-anchor="middle" stroke="#000" stroke-width="1.0" stroke-linejoin="round">8</text>
<text transform="translate(1263.0 1402.6) scale(1.08 1)" font-size="38" text-anchor="middle" stroke="#000" stroke-width="1.0" stroke-linejoin="round">12</text>
<text transform="translate(1378.0 1332.6) scale(1.08 1)" font-size="38" text-anchor="middle" stroke="#000" stroke-width="1.0" stroke-linejoin="round">20</text>
<text transform="translate(1474.0 1283.6) scale(1.08 1)" font-size="38" text-anchor="middle" stroke="#000" stroke-width="1.0" stroke-linejoin="round">19</text>
<text transform="translate(1549.0 1237.6) scale(1.08 1)" font-size="38" text-anchor="middle" stroke="#000" stroke-width="1.0" stroke-linejoin="round">18</text>
<text transform="translate(1601.0 1209.6) scale(1.08 1)" font-size="38" text-anchor="middle" stroke="#000" stroke-width="1.0" stroke-linejoin="round">4</text>
<text transform="translate(552.0 1116.6) scale(1.08 1)" font-size="38" text-anchor="middle" stroke="#000" stroke-width="1.0" stroke-linejoin="round">21</text>
<text transform="translate(694.0 1111.6) scale(1.08 1)" font-size="38" text-anchor="middle" stroke="#000" stroke-width="1.0" stroke-linejoin="round">7</text>
<text transform="translate(758.0 1121.6) scale(1.08 1)" font-size="38" text-anchor="middle" stroke="#000" stroke-width="1.0" stroke-linejoin="round">24</text>
<text transform="translate(823.0 1100.6) scale(1.08 1)" font-size="38" text-anchor="middle" stroke="#000" stroke-width="1.0" stroke-linejoin="round">5</text>
<text transform="translate(577.0 1216.6) scale(1.08 1)" font-size="38" text-anchor="middle" stroke="#000" stroke-width="1.0" stroke-linejoin="round">22</text>
<text transform="translate(485.0 1284.6) scale(1.08 1)" font-size="38" text-anchor="middle" stroke="#000" stroke-width="1.0" stroke-linejoin="round">16</text>
<text transform="translate(572.0 1279.6) scale(1.08 1)" font-size="38" text-anchor="middle" stroke="#000" stroke-width="1.0" stroke-linejoin="round">17</text>
<text transform="translate(348.0 1341.6) scale(1.08 1)" font-size="38" text-anchor="middle" stroke="#000" stroke-width="1.0" stroke-linejoin="round">2</text>
<text transform="translate(429.0 1376.6) scale(1.08 1)" font-size="38" text-anchor="middle" stroke="#000" stroke-width="1.0" stroke-linejoin="round">25</text>
<text transform="translate(479.0 1344.6) scale(1.08 1)" font-size="38" text-anchor="middle" stroke="#000" stroke-width="1.0" stroke-linejoin="round">8</text>
<text transform="translate(689.0 1385.6) scale(1.08 1)" font-size="38" text-anchor="middle" stroke="#000" stroke-width="1.0" stroke-linejoin="round">10</text>
<text transform="translate(817.0 1343.6) scale(1.08 1)" font-size="38" text-anchor="middle" stroke="#000" stroke-width="1.0" stroke-linejoin="round">9</text>
<text transform="translate(691.0 1464.6) scale(1.08 1)" font-size="38" text-anchor="middle" stroke="#000" stroke-width="1.0" stroke-linejoin="round">13</text>
<text transform="translate(243.0 1482.6) scale(1.08 1)" font-size="38" text-anchor="middle" stroke="#000" stroke-width="1.0" stroke-linejoin="round">12</text>
<text transform="translate(167.0 1526.6) scale(1.08 1)" font-size="38" text-anchor="middle" stroke="#000" stroke-width="1.0" stroke-linejoin="round">19</text>
<text transform="translate(597.0 1526.6) scale(1.08 1)" font-size="38" text-anchor="middle" stroke="#000" stroke-width="1.0" stroke-linejoin="round">7</text>
<text transform="translate(100.0 1574.6) scale(1.08 1)" font-size="38" text-anchor="middle" stroke="#000" stroke-width="1.0" stroke-linejoin="round">18</text>
<text transform="translate(40.0 1623.6) scale(1.08 1)" font-size="38" text-anchor="middle" stroke="#000" stroke-width="1.0" stroke-linejoin="round">4</text>
<text transform="translate(344.0 1601.6) scale(1.08 1)" font-size="38" text-anchor="middle" stroke="#000" stroke-width="1.0" stroke-linejoin="round">10</text>
<text transform="translate(348.0 1658.6) scale(1.08 1)" font-size="38" text-anchor="middle" stroke="#000" stroke-width="1.0" stroke-linejoin="round">9</text>
<text transform="translate(343.0 1712.6) scale(1.08 1)" font-size="38" text-anchor="middle" stroke="#000" stroke-width="1.0" stroke-linejoin="round">13</text>
<text transform="translate(314.0 1777.6) scale(1.08 1)" font-size="38" text-anchor="middle" stroke="#000" stroke-width="1.0" stroke-linejoin="round">30</text>
<text transform="translate(558.0 1578.6) scale(1.08 1)" font-size="38" text-anchor="middle" stroke="#000" stroke-width="1.0" stroke-linejoin="round">11</text>
<text transform="translate(568.0 1679.6) scale(1.08 1)" font-size="38" text-anchor="middle" stroke="#000" stroke-width="1.0" stroke-linejoin="round">28</text>
<text transform="translate(678.0 1565.6) scale(1.08 1)" font-size="38" text-anchor="middle" stroke="#000" stroke-width="1.0" stroke-linejoin="round">30</text>
<text transform="translate(662.0 1628.6) scale(1.08 1)" font-size="38" text-anchor="middle" stroke="#000" stroke-width="1.0" stroke-linejoin="round">7</text>
<text transform="translate(720.0 1637.6) scale(1.08 1)" font-size="38" text-anchor="middle" stroke="#000" stroke-width="1.0" stroke-linejoin="round">6</text>
<text transform="translate(779.0 1610.6) scale(1.08 1)" font-size="38" text-anchor="middle" stroke="#000" stroke-width="1.0" stroke-linejoin="round">5</text>
<text transform="translate(606.0 1761.6) scale(1.08 1)" font-size="38" text-anchor="middle" stroke="#000" stroke-width="1.0" stroke-linejoin="round">12</text>
<text transform="translate(681.0 1890.6) scale(1.08 1)" font-size="38" text-anchor="middle" stroke="#000" stroke-width="1.0" stroke-linejoin="round">10</text>
<text transform="translate(680.0 1967.6) scale(1.08 1)" font-size="38" text-anchor="middle" stroke="#000" stroke-width="1.0" stroke-linejoin="round">9</text>
<text transform="translate(671.0 2021.6) scale(1.08 1)" font-size="38" text-anchor="middle" stroke="#000" stroke-width="1.0" stroke-linejoin="round">13</text>
<text transform="translate(671.0 2097.6) scale(1.08 1)" font-size="38" text-anchor="middle" stroke="#000" stroke-width="1.0" stroke-linejoin="round">30</text>
<text transform="translate(420.0 1887.6) scale(1.08 1)" font-size="38" text-anchor="middle" stroke="#000" stroke-width="1.0" stroke-linejoin="round">3</text>
<text transform="translate(240.0 1979.6) scale(1.08 1)" font-size="38" text-anchor="middle" stroke="#000" stroke-width="1.0" stroke-linejoin="round">19</text>
<text transform="translate(172.0 2021.6) scale(1.08 1)" font-size="38" text-anchor="middle" stroke="#000" stroke-width="1.0" stroke-linejoin="round">18</text>
<text transform="translate(112.0 2066.6) scale(1.08 1)" font-size="38" text-anchor="middle" stroke="#000" stroke-width="1.0" stroke-linejoin="round">4</text>
<text transform="translate(1021.0 1578.6) scale(1.08 1)" font-size="38" text-anchor="middle" stroke="#000" stroke-width="1.0" stroke-linejoin="round">7</text>
<text transform="translate(1260.0 1575.6) scale(1.08 1)" font-size="38" text-anchor="middle" stroke="#000" stroke-width="1.0" stroke-linejoin="round">7</text>
<text transform="translate(843.0 1613.6) scale(1.08 1)" font-size="38" text-anchor="middle" stroke="#000" stroke-width="1.0" stroke-linejoin="round">8</text>
<text transform="translate(903.0 1679.6) scale(1.08 1)" font-size="38" text-anchor="middle" stroke="#000" stroke-width="1.0" stroke-linejoin="round">16</text>
<text transform="translate(1027.0 1706.6) scale(1.08 1)" font-size="38" text-anchor="middle" stroke="#000" stroke-width="1.0" stroke-linejoin="round">10</text>
<text transform="translate(1240.0 1679.6) scale(1.08 1)" font-size="38" text-anchor="middle" stroke="#000" stroke-width="1.0" stroke-linejoin="round">11</text>
<text transform="translate(906.0 1757.6) scale(1.08 1)" font-size="38" text-anchor="middle" stroke="#000" stroke-width="1.0" stroke-linejoin="round">15</text>
<text transform="translate(1032.0 1765.6) scale(1.08 1)" font-size="38" text-anchor="middle" stroke="#000" stroke-width="1.0" stroke-linejoin="round">9</text>
<text transform="translate(973.0 1810.6) scale(1.08 1)" font-size="38" text-anchor="middle" stroke="#000" stroke-width="1.0" stroke-linejoin="round">7</text>
<text transform="translate(1235.0 1808.6) scale(1.08 1)" font-size="38" text-anchor="middle" stroke="#000" stroke-width="1.0" stroke-linejoin="round">28</text>
<text transform="translate(1017.0 1836.6) scale(1.08 1)" font-size="38" text-anchor="middle" stroke="#000" stroke-width="1.0" stroke-linejoin="round">13</text>
<text transform="translate(930.0 1883.6) scale(1.08 1)" font-size="38" text-anchor="middle" stroke="#000" stroke-width="1.0" stroke-linejoin="round">11</text>
<text transform="translate(1016.0 1907.6) scale(1.08 1)" font-size="38" text-anchor="middle" stroke="#000" stroke-width="1.0" stroke-linejoin="round">30</text>
<text transform="translate(934.0 2015.6) scale(1.08 1)" font-size="38" text-anchor="middle" stroke="#000" stroke-width="1.0" stroke-linejoin="round">28</text>
<rect x="1434" y="2128.5" width="165.3" height="58.7" fill="#fff" stroke="#000" stroke-width="5"/>
<text x="1518.6" y="2171" font-size="39.4" text-anchor="middle" font-weight="bold">rl944gd</text>
<line x1="1103.0" y1="47.0" x2="1075.7" y2="57.5" stroke="#000" stroke-width="4.6"/>
<polygon points="1043.0,70.0 1075.6,46.0 1083.3,66.1" fill="#000"/>
<line x1="1149.0" y1="133.0" x2="1127.0" y2="142.8" stroke="#000" stroke-width="4.6"/>
<polygon points="1095.0,157.0 1126.3,131.3 1135.0,151.0" fill="#000"/>
<line x1="1263.0" y1="284.0" x2="1217.3" y2="310.5" stroke="#000" stroke-width="4.6"/>
<polygon points="1187.0,328.0 1215.3,299.1 1226.2,317.8" fill="#000"/>
<line x1="824.0" y1="162.0" x2="824.0" y2="168.0" stroke="#000" stroke-width="4.6"/>
<polygon points="824.0,203.0 813.2,164.0 834.8,164.0" fill="#000"/>
<line x1="715.0" y1="218.0" x2="715.0" y2="233.0" stroke="#000" stroke-width="4.6"/>
<polygon points="715.0,268.0 704.2,229.0 725.8,229.0" fill="#000"/>
<line x1="1027.0" y1="556.0" x2="1009.2" y2="573.8" stroke="#000" stroke-width="4.6"/>
<polygon points="984.5,598.5 1004.4,563.3 1019.7,578.6" fill="#000"/>
<line x1="918.0" y1="605.0" x2="909.6" y2="618.4" stroke="#000" stroke-width="4.6"/>
<polygon points="891.0,648.0 902.6,609.2 920.9,620.7" fill="#000"/>
<line x1="805.0" y1="668.0" x2="797.8" y2="677.8" stroke="#000" stroke-width="4.6"/>
<polygon points="777.0,706.0 791.4,668.2 808.8,681.0" fill="#000"/>
<line x1="712.0" y1="733.0" x2="702.8" y2="744.6" stroke="#000" stroke-width="4.6"/>
<polygon points="681.0,772.0 696.8,734.7 713.7,748.2" fill="#000"/>
<line x1="621.0" y1="783.0" x2="611.1" y2="796.1" stroke="#000" stroke-width="4.6"/>
<polygon points="590.0,824.0 604.9,786.4 622.1,799.4" fill="#000"/>
<line x1="1227.0" y1="690.0" x2="1182.5" y2="711.7" stroke="#000" stroke-width="4.6"/>
<polygon points="1151.0,727.0 1181.3,700.2 1190.8,719.6" fill="#000"/>
<line x1="1599.5" y1="730.0" x2="1599.5" y2="759.0" stroke="#000" stroke-width="4.6"/>
<polygon points="1599.5,794.0 1588.7,755.0 1610.3,755.0" fill="#000"/>
<line x1="1545.0" y1="750.0" x2="1545.0" y2="779.0" stroke="#000" stroke-width="4.6"/>
<polygon points="1545.0,814.0 1534.2,775.0 1555.8,775.0" fill="#000"/>
<line x1="1476.0" y1="786.0" x2="1476.0" y2="817.0" stroke="#000" stroke-width="4.6"/>
<polygon points="1476.0,852.0 1465.2,813.0 1486.8,813.0" fill="#000"/>
<line x1="1241.5" y1="918.0" x2="1241.5" y2="954.0" stroke="#000" stroke-width="4.6"/>
<polygon points="1241.5,989.0 1230.7,950.0 1252.3,950.0" fill="#000"/>
<line x1="1051.5" y1="1047.0" x2="1051.5" y2="1065.0" stroke="#000" stroke-width="4.6"/>
<polygon points="1051.5,1100.0 1040.7,1061.0 1062.3,1061.0" fill="#000"/>
<line x1="959.0" y1="1092.0" x2="959.0" y2="1118.0" stroke="#000" stroke-width="4.6"/>
<polygon points="959.0,1153.0 948.2,1114.0 969.8,1114.0" fill="#000"/>
<line x1="890.0" y1="1100.0" x2="881.7" y2="1115.2" stroke="#000" stroke-width="4.6"/>
<polygon points="865.0,1146.0 874.1,1106.6 893.1,1116.9" fill="#000"/>
<line x1="949.0" y1="1264.0" x2="938.1" y2="1273.3" stroke="#000" stroke-width="4.6"/>
<polygon points="911.5,1296.0 934.2,1262.5 948.2,1278.9" fill="#000"/>
<line x1="911.0" y1="1339.0" x2="901.9" y2="1336.7" stroke="#000" stroke-width="4.6"/>
<polygon points="868.0,1328.0 908.5,1327.2 903.1,1348.1" fill="#000"/>
<line x1="1053.0" y1="1335.0" x2="1018.3" y2="1352.3" stroke="#000" stroke-width="4.6"/>
<polygon points="987.0,1368.0 1017.1,1340.9 1026.7,1360.2" fill="#000"/>
<line x1="903.0" y1="1458.0" x2="892.8" y2="1450.9" stroke="#000" stroke-width="4.6"/>
<polygon points="864.0,1431.0 902.2,1444.3 889.9,1462.1" fill="#000"/>
<line x1="1017.0" y1="1460.0" x2="1003.8" y2="1479.2" stroke="#000" stroke-width="4.6"/>
<polygon points="984.0,1508.0 997.2,1469.7 1015.0,1482.0" fill="#000"/>
<line x1="1097.0" y1="1485.0" x2="1099.9" y2="1493.8" stroke="#000" stroke-width="4.6"/>
<polygon points="1111.0,1527.0 1088.4,1493.4 1108.9,1486.6" fill="#000"/>
<line x1="1157.5" y1="1427.0" x2="1157.5" y2="1437.0" stroke="#000" stroke-width="4.6"/>
<polygon points="1157.5,1472.0 1146.7,1433.0 1168.3,1433.0" fill="#000"/>
<line x1="1262.0" y1="1409.0" x2="1262.0" y2="1430.0" stroke="#000" stroke-width="4.6"/>
<polygon points="1262.0,1465.0 1251.2,1426.0 1272.8,1426.0" fill="#000"/>
<line x1="1378.0" y1="1339.0" x2="1378.0" y2="1359.0" stroke="#000" stroke-width="4.6"/>
<polygon points="1378.0,1394.0 1367.2,1355.0 1388.8,1355.0" fill="#000"/>
<line x1="1475.0" y1="1287.0" x2="1475.0" y2="1311.0" stroke="#000" stroke-width="4.6"/>
<polygon points="1475.0,1346.0 1464.2,1307.0 1485.8,1307.0" fill="#000"/>
<line x1="1549.0" y1="1244.0" x2="1549.0" y2="1265.0" stroke="#000" stroke-width="4.6"/>
<polygon points="1549.0,1300.0 1538.2,1261.0 1559.8,1261.0" fill="#000"/>
<line x1="1603.0" y1="1214.0" x2="1603.0" y2="1242.0" stroke="#000" stroke-width="4.6"/>
<polygon points="1603.0,1277.0 1592.2,1238.0 1613.8,1238.0" fill="#000"/>
<line x1="570.0" y1="1118.0" x2="591.3" y2="1132.9" stroke="#000" stroke-width="4.6"/>
<polygon points="620.0,1153.0 581.9,1139.5 594.2,1121.8" fill="#000"/>
<line x1="696.0" y1="1118.0" x2="702.5" y2="1130.1" stroke="#000" stroke-width="4.6"/>
<polygon points="719.0,1161.0 691.1,1131.7 710.1,1121.5" fill="#000"/>
<line x1="764.0" y1="1128.0" x2="766.6" y2="1154.2" stroke="#000" stroke-width="4.6"/>
<polygon points="770.0,1189.0 755.4,1151.2 776.9,1149.1" fill="#000"/>
<line x1="820.0" y1="1105.0" x2="815.9" y2="1128.5" stroke="#000" stroke-width="4.6"/>
<polygon points="810.0,1163.0 806.0,1122.7 827.3,1126.4" fill="#000"/>
<line x1="582.0" y1="1221.0" x2="593.1" y2="1234.7" stroke="#000" stroke-width="4.6"/>
<polygon points="615.0,1262.0 582.1,1238.4 599.0,1224.8" fill="#000"/>
<line x1="506.0" y1="1282.0" x2="526.3" y2="1293.2" stroke="#000" stroke-width="4.6"/>
<polygon points="557.0,1310.0 517.6,1300.7 528.0,1281.8" fill="#000"/>
<line x1="582.0" y1="1285.0" x2="587.6" y2="1294.7" stroke="#000" stroke-width="4.6"/>
<polygon points="605.0,1325.0 576.2,1296.6 594.9,1285.8" fill="#000"/>
<line x1="352.0" y1="1348.0" x2="363.5" y2="1366.3" stroke="#000" stroke-width="4.6"/>
<polygon points="382.0,1396.0 352.2,1368.7 370.5,1357.2" fill="#000"/>
<line x1="429.0" y1="1381.0" x2="429.0" y2="1402.0" stroke="#000" stroke-width="4.6"/>
<polygon points="429.0,1437.0 418.2,1398.0 439.8,1398.0" fill="#000"/>
<line x1="480.0" y1="1349.0" x2="480.0" y2="1361.0" stroke="#000" stroke-width="4.6"/>
<polygon points="480.0,1396.0 469.2,1357.0 490.8,1357.0" fill="#000"/>
<line x1="711.0" y1="1363.0" x2="728.8" y2="1357.1" stroke="#000" stroke-width="4.6"/>
<polygon points="762.0,1346.0 728.4,1368.6 721.6,1348.1" fill="#000"/>
<line x1="810.0" y1="1353.0" x2="801.7" y2="1361.3" stroke="#000" stroke-width="4.6"/>
<polygon points="777.0,1386.0 796.9,1350.8 812.2,1366.1" fill="#000"/>
<line x1="714.0" y1="1449.0" x2="727.3" y2="1447.3" stroke="#000" stroke-width="4.6"/>
<polygon points="762.0,1443.0 724.6,1458.6 722.0,1437.1" fill="#000"/>
<line x1="257.0" y1="1489.0" x2="271.8" y2="1507.0" stroke="#000" stroke-width="4.6"/>
<polygon points="294.0,1534.0 260.9,1510.7 277.6,1497.0" fill="#000"/>
<line x1="585.0" y1="1502.0" x2="566.5" y2="1496.3" stroke="#000" stroke-width="4.6"/>
<polygon points="533.0,1486.0 573.5,1487.1 567.1,1507.8" fill="#000"/>
<line x1="701.0" y1="1537.0" x2="712.9" y2="1529.9" stroke="#000" stroke-width="4.6"/>
<polygon points="743.0,1512.0 715.0,1541.2 704.0,1522.7" fill="#000"/>
<line x1="185.0" y1="1529.0" x2="194.8" y2="1545.1" stroke="#000" stroke-width="4.6"/>
<polygon points="213.0,1575.0 183.5,1547.3 201.9,1536.1" fill="#000"/>
<line x1="114.0" y1="1578.0" x2="120.6" y2="1591.6" stroke="#000" stroke-width="4.6"/>
<polygon points="136.0,1623.0 109.2,1592.7 128.6,1583.2" fill="#000"/>
<line x1="49.0" y1="1630.0" x2="57.4" y2="1643.4" stroke="#000" stroke-width="4.6"/>
<polygon points="76.0,1673.0 46.1,1645.7 64.4,1634.2" fill="#000"/>
<line x1="372.0" y1="1588.0" x2="381.0" y2="1588.4" stroke="#000" stroke-width="4.6"/>
<polygon points="416.0,1590.0 376.5,1599.0 377.5,1577.4" fill="#000"/>
<line x1="372.0" y1="1646.0" x2="383.0" y2="1645.8" stroke="#000" stroke-width="4.6"/>
<polygon points="418.0,1645.0 379.2,1656.6 378.8,1635.1" fill="#000"/>
<line x1="372.0" y1="1699.0" x2="383.0" y2="1698.8" stroke="#000" stroke-width="4.6"/>
<polygon points="418.0,1698.0 379.2,1709.6 378.8,1688.1" fill="#000"/>
<line x1="343.0" y1="1765.0" x2="360.2" y2="1763.3" stroke="#000" stroke-width="4.6"/>
<polygon points="395.0,1760.0 357.2,1774.5 355.1,1753.0" fill="#000"/>
<line x1="539.0" y1="1552.0" x2="522.7" y2="1547.4" stroke="#000" stroke-width="4.6"/>
<polygon points="489.0,1538.0 529.5,1538.1 523.6,1558.9" fill="#000"/>
<line x1="544.0" y1="1667.0" x2="524.0" y2="1667.0" stroke="#000" stroke-width="4.6"/>
<polygon points="489.0,1667.0 528.0,1656.2 528.0,1677.8" fill="#000"/>
<line x1="671.0" y1="1633.0" x2="677.8" y2="1640.8" stroke="#000" stroke-width="4.6"/>
<polygon points="701.0,1667.0 667.1,1644.9 683.3,1630.6" fill="#000"/>
<line x1="727.0" y1="1643.0" x2="731.1" y2="1653.5" stroke="#000" stroke-width="4.6"/>
<polygon points="744.0,1686.0 719.6,1653.7 739.7,1645.8" fill="#000"/>
<line x1="780.0" y1="1615.0" x2="780.0" y2="1631.0" stroke="#000" stroke-width="4.6"/>
<polygon points="780.0,1666.0 769.2,1627.0 790.8,1627.0" fill="#000"/>
<line x1="620.0" y1="1767.0" x2="633.2" y2="1786.2" stroke="#000" stroke-width="4.6"/>
<polygon points="653.0,1815.0 622.0,1789.0 639.8,1776.7" fill="#000"/>
<line x1="701.0" y1="1868.0" x2="714.4" y2="1862.8" stroke="#000" stroke-width="4.6"/>
<polygon points="747.0,1850.0 714.6,1874.3 706.7,1854.2" fill="#000"/>
<line x1="696.0" y1="1947.0" x2="717.1" y2="1934.2" stroke="#000" stroke-width="4.6"/>
<polygon points="747.0,1916.0 719.3,1945.5 708.1,1927.0" fill="#000"/>
<line x1="691.0" y1="2000.0" x2="715.0" y2="1989.3" stroke="#000" stroke-width="4.6"/>
<polygon points="747.0,1975.0 715.8,2000.8 707.0,1981.0" fill="#000"/>
<line x1="696.0" y1="2076.0" x2="715.1" y2="2067.4" stroke="#000" stroke-width="4.6"/>
<polygon points="747.0,2053.0 715.9,2078.9 707.0,2059.2" fill="#000"/>
<line x1="425.0" y1="1894.0" x2="430.6" y2="1903.7" stroke="#000" stroke-width="4.6"/>
<polygon points="448.0,1934.0 419.2,1905.6 437.9,1894.8" fill="#000"/>
<line x1="253.0" y1="1982.0" x2="261.3" y2="1997.2" stroke="#000" stroke-width="4.6"/>
<polygon points="278.0,2028.0 249.9,1998.9 268.9,1988.6" fill="#000"/>
<line x1="190.0" y1="2023.0" x2="202.3" y2="2039.8" stroke="#000" stroke-width="4.6"/>
<polygon points="223.0,2068.0 191.2,2042.9 208.6,2030.2" fill="#000"/>
<line x1="121.0" y1="2071.0" x2="135.5" y2="2087.0" stroke="#000" stroke-width="4.6"/>
<polygon points="159.0,2113.0 124.8,2091.3 140.8,2076.8" fill="#000"/>
<line x1="921.0" y1="1527.0" x2="930.0" y2="1536.5" stroke="#000" stroke-width="4.6"/>
<polygon points="954.0,1562.0 919.4,1541.0 935.1,1526.2" fill="#000"/>
<line x1="1035.0" y1="1552.0" x2="1039.5" y2="1547.0" stroke="#000" stroke-width="4.6"/>
<polygon points="1063.0,1521.0 1044.9,1557.2 1028.8,1542.7" fill="#000"/>
<line x1="1245.0" y1="1572.0" x2="1234.0" y2="1576.9" stroke="#000" stroke-width="4.6"/>
<polygon points="1202.0,1591.0 1233.3,1565.4 1242.0,1585.1" fill="#000"/>
<line x1="903.0" y1="1648.0" x2="903.0" y2="1633.0" stroke="#000" stroke-width="4.6"/>
<polygon points="903.0,1598.0 913.8,1637.0 892.2,1637.0" fill="#000"/>
<line x1="1050.0" y1="1683.0" x2="1062.7" y2="1675.6" stroke="#000" stroke-width="4.6"/>
<polygon points="1093.0,1658.0 1064.7,1686.9 1053.9,1668.3" fill="#000"/>
<line x1="1220.0" y1="1653.0" x2="1197.3" y2="1645.7" stroke="#000" stroke-width="4.6"/>
<polygon points="1164.0,1635.0 1204.4,1636.7 1197.8,1657.2" fill="#000"/>
<line x1="929.0" y1="1734.0" x2="936.0" y2="1730.3" stroke="#000" stroke-width="4.6"/>
<polygon points="967.0,1714.0 937.5,1741.7 927.5,1722.6" fill="#000"/>
<line x1="1048.0" y1="1744.0" x2="1060.3" y2="1739.4" stroke="#000" stroke-width="4.6"/>
<polygon points="1093.0,1727.0 1060.3,1750.9 1052.7,1730.7" fill="#000"/>
<line x1="956.0" y1="1787.0" x2="940.0" y2="1783.2" stroke="#000" stroke-width="4.6"/>
<polygon points="906.0,1775.0 946.4,1773.6 941.4,1794.6" fill="#000"/>
<line x1="1215.0" y1="1785.0" x2="1195.9" y2="1776.4" stroke="#000" stroke-width="4.6"/>
<polygon points="1164.0,1762.0 1204.0,1768.2 1195.1,1787.9" fill="#000"/>
<line x1="1042.0" y1="1810.0" x2="1059.1" y2="1805.6" stroke="#000" stroke-width="4.6"/>
<polygon points="1093.0,1797.0 1057.9,1817.1 1052.5,1796.2" fill="#000"/>
<line x1="911.0" y1="1858.0" x2="888.8" y2="1852.1" stroke="#000" stroke-width="4.6"/>
<polygon points="855.0,1843.0 895.5,1842.7 889.9,1863.5" fill="#000"/>
<line x1="1042.0" y1="1883.0" x2="1057.5" y2="1878.2" stroke="#000" stroke-width="4.6"/>
<polygon points="1091.0,1868.0 1056.9,1889.7 1050.5,1869.1" fill="#000"/>
<line x1="913.0" y1="1990.0" x2="889.2" y2="1984.7" stroke="#000" stroke-width="4.6"/>
<polygon points="855.0,1977.0 895.4,1975.0 890.7,1996.1" fill="#000"/>
<line x1="1594.0" y1="807.3" x2="1417.0" y2="909.5" stroke="#0a0a0a" stroke-width="2.006"/>
<line x1="1161.0" y1="1057.3" x2="1098.0" y2="1093.7" stroke="#0a0a0a" stroke-width="2.006"/>
<line x1="1029.0" y1="1133.5" x2="976.0" y2="1164.1" stroke="#0a0a0a" stroke-width="2.006"/>
<line x1="938.0" y1="1186.1" x2="862.0" y2="1229.9" stroke="#0a0a0a" stroke-width="2.006"/>
<line x1="808.0" y1="1261.1" x2="646.0" y2="1354.6" stroke="#0a0a0a" stroke-width="2.006"/>
<line x1="606.0" y1="1377.7" x2="484.0" y2="1448.2" stroke="#0a0a0a" stroke-width="2.006"/>
<line x1="434.0" y1="1477.0" x2="322.0" y2="1541.7" stroke="#0a0a0a" stroke-width="2.006"/>
<line x1="287.0" y1="1561.9" x2="84.0" y2="1679.1" stroke="#0a0a0a" stroke-width="2.006"/>
<line x1="1601.0" y1="1289.6" x2="1418.0" y2="1395.3" stroke="#0a0a0a" stroke-width="2.006"/>
<line x1="1358.0" y1="1429.9" x2="1292.0" y2="1468.0" stroke="#0a0a0a" stroke-width="2.006"/>
<line x1="1254.0" y1="1489.9" x2="1150.0" y2="1550.0" stroke="#0a0a0a" stroke-width="2.006"/>
<line x1="1112.0" y1="1571.9" x2="1001.0" y2="1636.0" stroke="#0a0a0a" stroke-width="2.006"/>
<line x1="955.0" y1="1662.6" x2="852.0" y2="1722.0" stroke="#0a0a0a" stroke-width="2.006"/>
<line x1="782.0" y1="1762.5" x2="683.0" y2="1819.6" stroke="#0a0a0a" stroke-width="2.006"/>
<line x1="646.0" y1="1841.0" x2="596.0" y2="1869.8" stroke="#0a0a0a" stroke-width="2.006"/>
<line x1="347.0" y1="2013.6" x2="172.0" y2="2114.6" stroke="#0a0a0a" stroke-width="2.006"/>
<ellipse cx="1598.0" cy="805.0" rx="3.3" ry="4.3" transform="rotate(-30 1598.0 805.0)" fill="#fff" stroke="#000" stroke-width="2.9499999999999997"/>
<ellipse cx="1550.0" cy="833.0" rx="16.2" ry="9.35307" transform="rotate(60 1550.0 833.0)" fill="none" stroke="#000" stroke-width="4.012"/>
<ellipse cx="1483.0" cy="872.0" rx="19.2" ry="11.08512" transform="rotate(60 1483.0 872.0)" fill="none" stroke="#000" stroke-width="7.08"/>
<ellipse cx="1483.0" cy="872.0" rx="19.2" ry="11.08512" transform="rotate(60 1483.0 872.0)" fill="none" stroke="#aaa" stroke-width="1.416"/>
<ellipse cx="1605.0" cy="1287.3" rx="3.3" ry="4.3" transform="rotate(-30 1605.0 1287.3)" fill="#fff" stroke="#000" stroke-width="2.9499999999999997"/>
<ellipse cx="1555.0" cy="1316.2" rx="16.2" ry="9.35307" transform="rotate(60 1555.0 1316.2)" fill="none" stroke="#000" stroke-width="4.012"/>
<ellipse cx="1481.5" cy="1358.6" rx="19.2" ry="11.08512" transform="rotate(60 1481.5 1358.6)" fill="none" stroke="#000" stroke-width="7.08"/>
<ellipse cx="1481.5" cy="1358.6" rx="19.2" ry="11.08512" transform="rotate(60 1481.5 1358.6)" fill="none" stroke="#aaa" stroke-width="1.416"/>
<ellipse cx="80.0" cy="1681.5" rx="3.3" ry="4.3" transform="rotate(-30 80.0 1681.5)" fill="#fff" stroke="#000" stroke-width="2.9499999999999997"/>
<ellipse cx="148.0" cy="1642.2" rx="16.2" ry="9.35307" transform="rotate(60 148.0 1642.2)" fill="none" stroke="#000" stroke-width="4.012"/>
<ellipse cx="224.0" cy="1598.3" rx="19.2" ry="11.08512" transform="rotate(60 224.0 1598.3)" fill="none" stroke="#000" stroke-width="7.08"/>
<ellipse cx="224.0" cy="1598.3" rx="19.2" ry="11.08512" transform="rotate(60 224.0 1598.3)" fill="none" stroke="#aaa" stroke-width="1.416"/>
<ellipse cx="168.6" cy="2116.6" rx="3.3" ry="4.3" transform="rotate(-30 168.6 2116.6)" fill="#fff" stroke="#000" stroke-width="2.9499999999999997"/>
<ellipse cx="231.0" cy="2080.6" rx="16.2" ry="9.35307" transform="rotate(60 231.0 2080.6)" fill="none" stroke="#000" stroke-width="4.012"/>
<ellipse cx="292.7" cy="2045.0" rx="19.2" ry="11.08512" transform="rotate(60 292.7 2045.0)" fill="none" stroke="#000" stroke-width="7.08"/>
<ellipse cx="292.7" cy="2045.0" rx="19.2" ry="11.08512" transform="rotate(60 292.7 2045.0)" fill="none" stroke="#aaa" stroke-width="1.416"/>
<path d="M1166.6,1036.1 L1398.7,902.1 A15.6,9.0 60 0 1 1414.3,929.1 L1182.2,1063.1 Z" fill="#fff" stroke="#000" stroke-width="2.006" />
<ellipse cx="1174.4" cy="1049.6" rx="15.6" ry="9.00666" transform="rotate(60 1174.4 1049.6)" fill="#fff" stroke="#000" stroke-width="2.7139999999999995"/>
<path d="M1398.7,902.1 A15.6,9.0 60 0 1 1414.3,929.1" fill="none" stroke="#000" stroke-width="4.72" />
<ellipse cx="1174.4" cy="1049.6" rx="13.6" ry="7.85196" transform="rotate(60 1174.4 1049.6)" fill="#fff" stroke="#000" stroke-width="5.8999999999999995"/>
<ellipse cx="1174.4" cy="1049.6" rx="5" ry="3" transform="rotate(60 1174.4 1049.6)" fill="#888" stroke="#000" stroke-width="2.596"/>
<ellipse cx="1204.0" cy="1024.1" rx="3.6" ry="2.4" transform="rotate(-30 1204.0 1024.1)" fill="#fff" stroke="#000" stroke-width="2.124"/>
<ellipse cx="1292.2" cy="973.1" rx="3.6" ry="2.4" transform="rotate(-30 1292.2 973.1)" fill="#fff" stroke="#000" stroke-width="2.124"/>
<ellipse cx="1380.3" cy="922.2" rx="3.6" ry="2.4" transform="rotate(-30 1380.3 922.2)" fill="#fff" stroke="#000" stroke-width="2.124"/>
<line x1="1196.3" y1="1049.9" x2="1196.3" y2="1045.4" stroke="#000" stroke-width="2.596"/>
<line x1="1210.2" y1="1041.9" x2="1210.2" y2="1037.4" stroke="#000" stroke-width="2.596"/>
<line x1="1219.5" y1="1036.5" x2="1219.5" y2="1032.0" stroke="#000" stroke-width="2.596"/>
<line x1="1231.1" y1="1029.8" x2="1231.1" y2="1025.3" stroke="#000" stroke-width="2.596"/>
<line x1="1289.1" y1="996.3" x2="1289.1" y2="991.8" stroke="#000" stroke-width="2.596"/>
<line x1="1314.6" y1="981.6" x2="1314.6" y2="977.1" stroke="#000" stroke-width="2.596"/>
<line x1="1372.6" y1="948.1" x2="1372.6" y2="943.6" stroke="#000" stroke-width="2.596"/>
<line x1="1384.3" y1="941.4" x2="1384.3" y2="936.9" stroke="#000" stroke-width="2.596"/>
<line x1="1393.5" y1="936.0" x2="1393.5" y2="931.5" stroke="#000" stroke-width="2.596"/>
<line x1="1402.8" y1="930.7" x2="1402.8" y2="926.2" stroke="#000" stroke-width="2.596"/>
<path d="M346.2,1996.1 L578.3,1862.1 A15.6,9.0 60 0 1 593.9,1889.1 L361.8,2023.1 Z" fill="#fff" stroke="#000" stroke-width="2.006" />
<ellipse cx="354.0" cy="2009.6" rx="15.6" ry="9.00666" transform="rotate(60 354.0 2009.6)" fill="#fff" stroke="#000" stroke-width="2.7139999999999995"/>
<path d="M578.3,1862.1 A15.6,9.0 60 0 1 593.9,1889.1" fill="none" stroke="#000" stroke-width="4.72" />
<ellipse cx="354.0" cy="2009.6" rx="13.6" ry="7.85196" transform="rotate(60 354.0 2009.6)" fill="#fff" stroke="#000" stroke-width="5.8999999999999995"/>
<ellipse cx="354.0" cy="2009.6" rx="5" ry="3" transform="rotate(60 354.0 2009.6)" fill="#888" stroke="#000" stroke-width="2.596"/>
<ellipse cx="383.6" cy="1984.1" rx="3.6" ry="2.4" transform="rotate(-30 383.6 1984.1)" fill="#fff" stroke="#000" stroke-width="2.124"/>
<ellipse cx="471.8" cy="1933.1" rx="3.6" ry="2.4" transform="rotate(-30 471.8 1933.1)" fill="#fff" stroke="#000" stroke-width="2.124"/>
<ellipse cx="559.9" cy="1882.2" rx="3.6" ry="2.4" transform="rotate(-30 559.9 1882.2)" fill="#fff" stroke="#000" stroke-width="2.124"/>
<line x1="375.9" y1="2009.9" x2="375.9" y2="2005.4" stroke="#000" stroke-width="2.596"/>
<line x1="389.8" y1="2001.9" x2="389.8" y2="1997.4" stroke="#000" stroke-width="2.596"/>
<line x1="399.1" y1="1996.5" x2="399.1" y2="1992.0" stroke="#000" stroke-width="2.596"/>
<line x1="410.7" y1="1989.8" x2="410.7" y2="1985.3" stroke="#000" stroke-width="2.596"/>
<line x1="468.7" y1="1956.3" x2="468.7" y2="1951.8" stroke="#000" stroke-width="2.596"/>
<line x1="494.2" y1="1941.6" x2="494.2" y2="1937.1" stroke="#000" stroke-width="2.596"/>
<line x1="552.2" y1="1908.1" x2="552.2" y2="1903.6" stroke="#000" stroke-width="2.596"/>
<line x1="563.9" y1="1901.4" x2="563.9" y2="1896.9" stroke="#000" stroke-width="2.596"/>
<line x1="573.1" y1="1896.0" x2="573.1" y2="1891.5" stroke="#000" stroke-width="2.596"/>
<line x1="582.4" y1="1890.7" x2="582.4" y2="1886.2" stroke="#000" stroke-width="2.596"/>
<path d="M1032.2,1109.1 L1075.5,1084.1 A19.5,11.3 60 0 1 1095.0,1117.9 L1051.8,1142.9 Z" fill="#fff" stroke="#000" stroke-width="2.596" />
<ellipse cx="1042.0" cy="1126.0" rx="19.5" ry="11.258325000000001" transform="rotate(60 1042.0 1126.0)" fill="#fff" stroke="#000" stroke-width="3.3040000000000003"/>
<ellipse cx="1042.0" cy="1126.0" rx="14" ry="8.0829" transform="rotate(60 1042.0 1126.0)" fill="#fff" stroke="#000" stroke-width="2.596"/>
<path d="M1360.2,1406.1 L1403.5,1381.1 A19.5,11.3 60 0 1 1423.0,1414.9 L1379.8,1439.9 Z" fill="#fff" stroke="#000" stroke-width="2.596" />
<ellipse cx="1370.0" cy="1423.0" rx="19.5" ry="11.258325000000001" transform="rotate(60 1370.0 1423.0)" fill="#fff" stroke="#000" stroke-width="3.3040000000000003"/>
<ellipse cx="1370.0" cy="1423.0" rx="14" ry="8.0829" transform="rotate(60 1370.0 1423.0)" fill="#fff" stroke="#000" stroke-width="2.596"/>
<path d="M941.0,1164.5 L953.1,1157.5 A17.2,9.9 60 0 1 970.3,1187.2 L958.2,1194.2 Z" fill="#fff" stroke="#000" stroke-width="2.006" />
<ellipse cx="949.6" cy="1179.4" rx="17.2" ry="9.93042" transform="rotate(60 949.6 1179.4)" fill="#fff" stroke="#000" stroke-width="2.7139999999999995"/>
<ellipse cx="958.0" cy="1172.3" rx="3.4" ry="4.2" transform="rotate(-20 958.0 1172.3)" fill="#fff" stroke="#000" stroke-width="1.888"/>
<line x1="943.6" y1="1181.4" x2="947.6" y2="1179.9" stroke="#161616" stroke-width="1.534"/>
<path d="M1258.4,1467.5 L1270.5,1460.5 A17.2,9.9 60 0 1 1287.7,1490.3 L1275.6,1497.3 Z" fill="#fff" stroke="#000" stroke-width="2.006" />
<ellipse cx="1267.0" cy="1482.4" rx="17.2" ry="9.93042" transform="rotate(60 1267.0 1482.4)" fill="#fff" stroke="#000" stroke-width="2.7139999999999995"/>
<ellipse cx="1275.4" cy="1475.4" rx="3.4" ry="4.2" transform="rotate(-20 1275.4 1475.4)" fill="#fff" stroke="#000" stroke-width="1.888"/>
<line x1="1261.0" y1="1484.4" x2="1265.0" y2="1482.9" stroke="#161616" stroke-width="1.534"/>
<path d="M290.1,1540.3 L302.2,1533.3 A17.2,9.9 60 0 1 319.4,1563.0 L307.3,1570.0 Z" fill="#fff" stroke="#000" stroke-width="2.006" />
<ellipse cx="298.7" cy="1555.2" rx="17.2" ry="9.93042" transform="rotate(60 298.7 1555.2)" fill="#fff" stroke="#000" stroke-width="2.7139999999999995"/>
<ellipse cx="307.1" cy="1548.1" rx="3.4" ry="4.2" transform="rotate(-20 307.1 1548.1)" fill="#fff" stroke="#000" stroke-width="1.888"/>
<line x1="292.7" y1="1557.2" x2="296.7" y2="1555.7" stroke="#161616" stroke-width="1.534"/>
<path d="M648.8,1819.5 L660.9,1812.5 A17.2,9.9 60 0 1 678.1,1842.3 L666.0,1849.3 Z" fill="#fff" stroke="#000" stroke-width="2.006" />
<ellipse cx="657.4" cy="1834.4" rx="17.2" ry="9.93042" transform="rotate(60 657.4 1834.4)" fill="#fff" stroke="#000" stroke-width="2.7139999999999995"/>
<ellipse cx="665.8" cy="1827.3" rx="3.4" ry="4.2" transform="rotate(-20 665.8 1827.3)" fill="#fff" stroke="#000" stroke-width="1.888"/>
<line x1="651.4" y1="1836.4" x2="655.4" y2="1834.9" stroke="#161616" stroke-width="1.534"/>
<line x1="424.3" y1="1450.0" x2="424.3" y2="1746.0" stroke="#161616" stroke-width="2.124"/>
<ellipse cx="424.3" cy="1590.3" rx="5.6" ry="5.6" transform="rotate(0 424.3 1590.3)" fill="#fff" stroke="#060606" stroke-width="2.006"/>
<path d="M417.8,1640.5 Q424.3,1634.0 430.8,1640.5 L425.3,1649.0 L420.3,1649.0 Z" fill="#111" stroke="#000" stroke-width="1.77" />
<ellipse cx="425.3" cy="1642.0" rx="2.2" ry="1.6" transform="rotate(0 425.3 1642.0)" fill="#777" stroke="#777" stroke-width="0.944"/>
<ellipse cx="424.3" cy="1697.0" rx="7.6" ry="5" transform="rotate(0 424.3 1697.0)" fill="#111" stroke="#000" stroke-width="1.77"/>
<ellipse cx="424.3" cy="1696.5" rx="3" ry="1.3" transform="rotate(0 424.3 1696.5)" fill="#666" stroke="#666" stroke-width="0.944"/>
<path d="M394.9,1754.5 C394.9,1747.5 410.9,1744.5 424.9,1744.5 C438.9,1744.5 454.9,1747.5 454.9,1754.5 L454.9,1760.5 C454.9,1765.5 444.9,1765.5 440.9,1762.5 C432.9,1758.5 416.9,1758.5 408.9,1762.5 C404.9,1765.5 394.9,1765.5 394.9,1760.5 Z" fill="#fff" stroke="#060606" stroke-width="2.36" />
<path d="M394.9,1755.5 C398.9,1759.5 404.9,1758.5 409.9,1755.5 C416.9,1751.5 432.9,1751.5 439.9,1755.5 C444.9,1758.5 450.9,1759.5 454.9,1755.5" fill="none" stroke="#161616" stroke-width="1.888" />
<line x1="418.9" y1="1745.5" x2="418.9" y2="1750.5" stroke="#555" stroke-width="1.416"/>
<line x1="430.9" y1="1745.5" x2="430.9" y2="1750.5" stroke="#555" stroke-width="1.416"/>
<line x1="481.8" y1="1412.0" x2="481.8" y2="1516.0" stroke="#8a8a8a" stroke-width="3.54"/>
<line x1="481.8" y1="1551.0" x2="481.8" y2="1573.0" stroke="#8a8a8a" stroke-width="3.54"/>
<ellipse cx="482.2" cy="1409.5" rx="10.5" ry="6.2" transform="rotate(0 482.2 1409.5)" fill="#222" stroke="#000" stroke-width="2.36"/>
<ellipse cx="482.2" cy="1405.5" rx="10.5" ry="6.2" transform="rotate(0 482.2 1405.5)" fill="#222" stroke="#000" stroke-width="2.36"/>
<ellipse cx="482.2" cy="1405.5" rx="5.5" ry="2.8" transform="rotate(0 482.2 1405.5)" fill="#999" stroke="#666" stroke-width="1.416"/>
<rect x="476.4" y="1515.5" width="10.8" height="33" rx="4" fill="#fff" stroke="#111" stroke-width="1.8"/>
<ellipse cx="481.8" cy="1516.0" rx="5.4" ry="3.6" transform="rotate(0 481.8 1516.0)" fill="#111" stroke="#000" stroke-width="1.18"/>
<line x1="476.8" y1="1532.0" x2="486.8" y2="1532.0" stroke="#000" stroke-width="2.596"/>
<line x1="476.8" y1="1536.2" x2="486.8" y2="1536.2" stroke="#000" stroke-width="2.596"/>
<line x1="476.8" y1="1540.4" x2="486.8" y2="1540.4" stroke="#000" stroke-width="2.596"/>
<line x1="476.8" y1="1544.6" x2="486.8" y2="1544.6" stroke="#000" stroke-width="2.596"/>
<line x1="476.4" y1="1529.5" x2="476.4" y2="1546.5" stroke="#000" stroke-width="3.068"/>
<line x1="487.2" y1="1529.5" x2="487.2" y2="1546.5" stroke="#000" stroke-width="3.068"/>
<rect x="475.9" y="1584.5" width="11.8" height="133.0" fill="#fff" stroke="#333" stroke-width="1.6"/>
<line x1="487.7" y1="1585.5" x2="487.7" y2="1716.5" stroke="#777" stroke-width="3.068"/>
<rect x="474.2" y="1572.5" width="15.2" height="14" rx="4" fill="#fff" stroke="#222" stroke-width="2"/>
<line x1="474.8" y1="1577.5" x2="488.8" y2="1577.5" stroke="#161616" stroke-width="1.888"/>
<line x1="474.8" y1="1582.0" x2="488.8" y2="1582.0" stroke="#161616" stroke-width="1.888"/>
<rect x="475.5" y="1715.5" width="12.6" height="10" rx="3.5" fill="#fff" stroke="#333" stroke-width="1.8"/>
<line x1="476.3" y1="1720.5" x2="487.3" y2="1720.5" stroke="#777" stroke-width="1.416"/>
<line x1="770.5" y1="1222.0" x2="770.5" y2="1491.0" stroke="#8a8a8a" stroke-width="3.54"/>
<ellipse cx="770.5" cy="1342.0" rx="5.6" ry="5.6" transform="rotate(0 770.5 1342.0)" fill="#fff" stroke="#060606" stroke-width="2.006"/>
<path d="M763.5,1387.0 Q770.0,1380.5 776.5,1387.0 L771.0,1395.5 L766.0,1395.5 Z" fill="#111" stroke="#000" stroke-width="1.77" />
<ellipse cx="771.0" cy="1388.5" rx="2.2" ry="1.6" transform="rotate(0 771.0 1388.5)" fill="#777" stroke="#777" stroke-width="0.944"/>
<ellipse cx="770.5" cy="1442.5" rx="7.6" ry="5" transform="rotate(0 770.5 1442.5)" fill="#111" stroke="#000" stroke-width="1.77"/>
<ellipse cx="770.5" cy="1442.0" rx="3" ry="1.3" transform="rotate(0 770.5 1442.0)" fill="#666" stroke="#666" stroke-width="0.944"/>
<path d="M740.3,1499.0 C740.3,1492.0 756.3,1489.0 770.3,1489.0 C784.3,1489.0 800.3,1492.0 800.3,1499.0 L800.3,1505.0 C800.3,1510.0 790.3,1510.0 786.3,1507.0 C778.3,1503.0 762.3,1503.0 754.3,1507.0 C750.3,1510.0 740.3,1510.0 740.3,1505.0 Z" fill="#fff" stroke="#060606" stroke-width="2.36" />
<path d="M740.3,1500.0 C744.3,1504.0 750.3,1503.0 755.3,1500.0 C762.3,1496.0 778.3,1496.0 785.3,1500.0 C790.3,1503.0 796.3,1504.0 800.3,1500.0" fill="none" stroke="#161616" stroke-width="1.888" />
<line x1="764.3" y1="1490.0" x2="764.3" y2="1495.0" stroke="#555" stroke-width="1.416"/>
<line x1="776.3" y1="1490.0" x2="776.3" y2="1495.0" stroke="#555" stroke-width="1.416"/>
<line x1="859.0" y1="1161.0" x2="859.0" y2="1308.0" stroke="#8a8a8a" stroke-width="3.54"/>
<line x1="859.0" y1="1343.0" x2="859.0" y2="1381.0" stroke="#8a8a8a" stroke-width="3.54"/>
<ellipse cx="859.5" cy="1158.5" rx="10.5" ry="6.2" transform="rotate(0 859.5 1158.5)" fill="#222" stroke="#000" stroke-width="2.36"/>
<ellipse cx="859.5" cy="1154.5" rx="10.5" ry="6.2" transform="rotate(0 859.5 1154.5)" fill="#222" stroke="#000" stroke-width="2.36"/>
<ellipse cx="859.5" cy="1154.5" rx="5.5" ry="2.8" transform="rotate(0 859.5 1154.5)" fill="#999" stroke="#666" stroke-width="1.416"/>
<rect x="853.6" y="1307.5" width="10.8" height="33" rx="4" fill="#fff" stroke="#111" stroke-width="1.8"/>
<ellipse cx="859.0" cy="1308.0" rx="5.4" ry="3.6" transform="rotate(0 859.0 1308.0)" fill="#111" stroke="#000" stroke-width="1.18"/>
<line x1="854.0" y1="1324.0" x2="864.0" y2="1324.0" stroke="#000" stroke-width="2.596"/>
<line x1="854.0" y1="1328.2" x2="864.0" y2="1328.2" stroke="#000" stroke-width="2.596"/>
<line x1="854.0" y1="1332.4" x2="864.0" y2="1332.4" stroke="#000" stroke-width="2.596"/>
<line x1="854.0" y1="1336.6" x2="864.0" y2="1336.6" stroke="#000" stroke-width="2.596"/>
<line x1="853.6" y1="1321.5" x2="853.6" y2="1338.5" stroke="#000" stroke-width="3.068"/>
<line x1="864.4" y1="1321.5" x2="864.4" y2="1338.5" stroke="#000" stroke-width="3.068"/>
<rect x="853.9" y="1392.5" width="11.8" height="131.0" fill="#fff" stroke="#333" stroke-width="1.6"/>
<line x1="865.7" y1="1393.5" x2="865.7" y2="1522.5" stroke="#777" stroke-width="3.068"/>
<rect x="852.2" y="1380.5" width="15.2" height="14" rx="4" fill="#fff" stroke="#222" stroke-width="2"/>
<line x1="852.8" y1="1385.5" x2="866.8" y2="1385.5" stroke="#161616" stroke-width="1.888"/>
<line x1="852.8" y1="1390.0" x2="866.8" y2="1390.0" stroke="#161616" stroke-width="1.888"/>
<rect x="853.5" y="1521.5" width="12.6" height="10" rx="3.5" fill="#fff" stroke="#333" stroke-width="1.8"/>
<line x1="854.3" y1="1526.5" x2="865.3" y2="1526.5" stroke="#777" stroke-width="1.416"/>
<line x1="752.5" y1="1722.0" x2="752.5" y2="2016.0" stroke="#161616" stroke-width="2.124"/>
<ellipse cx="752.5" cy="1847.3" rx="5.6" ry="5.6" transform="rotate(0 752.5 1847.3)" fill="#fff" stroke="#060606" stroke-width="2.006"/>
<path d="M746.3,1905.0 Q752.8,1898.5 759.3,1905.0 L753.8,1913.5 L748.8,1913.5 Z" fill="#111" stroke="#000" stroke-width="1.77" />
<ellipse cx="753.8" cy="1906.5" rx="2.2" ry="1.6" transform="rotate(0 753.8 1906.5)" fill="#777" stroke="#777" stroke-width="0.944"/>
<ellipse cx="752.8" cy="1969.0" rx="7.6" ry="5" transform="rotate(0 752.8 1969.0)" fill="#111" stroke="#000" stroke-width="1.77"/>
<ellipse cx="752.8" cy="1968.5" rx="3" ry="1.3" transform="rotate(0 752.8 1968.5)" fill="#666" stroke="#666" stroke-width="0.944"/>
<rect x="745.3" y="2016.0" width="16" height="41.5" rx="5" fill="#fff" stroke="#222" stroke-width="2"/>
<ellipse cx="753.3" cy="2019.5" rx="7.6" ry="3" transform="rotate(0 753.3 2019.5)" fill="none" stroke="#161616" stroke-width="1.77"/>
<line x1="745.8" y1="2025.0" x2="760.8" y2="2025.0" stroke="#555" stroke-width="1.534"/>
<line x1="745.8" y1="2029.0" x2="760.8" y2="2029.0" stroke="#555" stroke-width="1.534"/>
<line x1="745.8" y1="2034.0" x2="760.8" y2="2034.0" stroke="#555" stroke-width="1.534"/>
<line x1="750.3" y1="2036.0" x2="750.3" y2="2049.5" stroke="#999" stroke-width="1.77"/>
<line x1="756.3" y1="2036.0" x2="756.3" y2="2049.5" stroke="#999" stroke-width="1.77"/>
<line x1="745.8" y1="2050.5" x2="760.8" y2="2050.5" stroke="#555" stroke-width="1.534"/>
<line x1="847.0" y1="1678.0" x2="847.0" y2="1824.0" stroke="#161616" stroke-width="2.124"/>
<line x1="847.0" y1="1860.0" x2="847.0" y2="1902.0" stroke="#161616" stroke-width="2.124"/>
<ellipse cx="846.8" cy="1675.5" rx="10.5" ry="6.2" transform="rotate(0 846.8 1675.5)" fill="#222" stroke="#000" stroke-width="2.36"/>
<ellipse cx="846.8" cy="1671.5" rx="10.5" ry="6.2" transform="rotate(0 846.8 1671.5)" fill="#222" stroke="#000" stroke-width="2.36"/>
<ellipse cx="846.8" cy="1671.5" rx="5.5" ry="2.8" transform="rotate(0 846.8 1671.5)" fill="#999" stroke="#666" stroke-width="1.416"/>
<rect x="841.9" y="1823.5" width="10.8" height="33" rx="4" fill="#fff" stroke="#111" stroke-width="1.8"/>
<ellipse cx="847.3" cy="1824.0" rx="5.4" ry="3.6" transform="rotate(0 847.3 1824.0)" fill="#111" stroke="#000" stroke-width="1.18"/>
<line x1="842.3" y1="1840.0" x2="852.3" y2="1840.0" stroke="#000" stroke-width="2.596"/>
<line x1="842.3" y1="1844.2" x2="852.3" y2="1844.2" stroke="#000" stroke-width="2.596"/>
<line x1="842.3" y1="1848.4" x2="852.3" y2="1848.4" stroke="#000" stroke-width="2.596"/>
<line x1="842.3" y1="1852.6" x2="852.3" y2="1852.6" stroke="#000" stroke-width="2.596"/>
<line x1="841.9" y1="1837.5" x2="841.9" y2="1854.5" stroke="#000" stroke-width="3.068"/>
<line x1="852.7" y1="1837.5" x2="852.7" y2="1854.5" stroke="#000" stroke-width="3.068"/>
<rect x="841.5" y="1913.0" width="11.8" height="131.7" fill="#fff" stroke="#333" stroke-width="1.6"/>
<line x1="853.3" y1="1914.0" x2="853.3" y2="2043.7" stroke="#777" stroke-width="3.068"/>
<rect x="839.8" y="1901.0" width="15.2" height="14" rx="4" fill="#fff" stroke="#222" stroke-width="2"/>
<line x1="840.4" y1="1906.0" x2="854.4" y2="1906.0" stroke="#161616" stroke-width="1.888"/>
<line x1="840.4" y1="1910.5" x2="854.4" y2="1910.5" stroke="#161616" stroke-width="1.888"/>
<rect x="841.1" y="2042.7" width="12.6" height="10" rx="3.5" fill="#fff" stroke="#333" stroke-width="1.8"/>
<line x1="841.9" y1="2047.7" x2="852.9" y2="2047.7" stroke="#777" stroke-width="1.416"/>
<line x1="1098.0" y1="1546.0" x2="1098.0" y2="1846.0" stroke="#8a8a8a" stroke-width="3.54"/>
<ellipse cx="1098.2" cy="1655.8" rx="5.6" ry="5.6" transform="rotate(0 1098.2 1655.8)" fill="#fff" stroke="#060606" stroke-width="2.006"/>
<path d="M1091.5,1721.0 Q1098.0,1714.5 1104.5,1721.0 L1099.0,1729.5 L1094.0,1729.5 Z" fill="#111" stroke="#000" stroke-width="1.77" />
<ellipse cx="1099.0" cy="1722.5" rx="2.2" ry="1.6" transform="rotate(0 1099.0 1722.5)" fill="#777" stroke="#777" stroke-width="0.944"/>
<ellipse cx="1098.0" cy="1795.0" rx="7.6" ry="5" transform="rotate(0 1098.0 1795.0)" fill="#111" stroke="#000" stroke-width="1.77"/>
<ellipse cx="1098.0" cy="1794.5" rx="3" ry="1.3" transform="rotate(0 1098.0 1794.5)" fill="#666" stroke="#666" stroke-width="0.944"/>
<rect x="1090.2" y="1845.0" width="16" height="40.5" rx="5" fill="#fff" stroke="#222" stroke-width="2"/>
<ellipse cx="1098.2" cy="1848.5" rx="7.6" ry="3" transform="rotate(0 1098.2 1848.5)" fill="none" stroke="#161616" stroke-width="1.77"/>
<line x1="1090.7" y1="1854.0" x2="1105.7" y2="1854.0" stroke="#555" stroke-width="1.534"/>
<line x1="1090.7" y1="1858.0" x2="1105.7" y2="1858.0" stroke="#555" stroke-width="1.534"/>
<line x1="1090.7" y1="1863.0" x2="1105.7" y2="1863.0" stroke="#555" stroke-width="1.534"/>
<line x1="1095.2" y1="1865.0" x2="1095.2" y2="1877.5" stroke="#999" stroke-width="1.77"/>
<line x1="1101.2" y1="1865.0" x2="1101.2" y2="1877.5" stroke="#999" stroke-width="1.77"/>
<line x1="1090.7" y1="1878.5" x2="1105.7" y2="1878.5" stroke="#555" stroke-width="1.534"/>
<line x1="1157.0" y1="1485.0" x2="1157.0" y2="1613.0" stroke="#8a8a8a" stroke-width="3.54"/>
<line x1="1157.0" y1="1650.0" x2="1157.0" y2="1698.0" stroke="#8a8a8a" stroke-width="3.54"/>
<ellipse cx="1157.2" cy="1483.0" rx="10.5" ry="6.2" transform="rotate(0 1157.2 1483.0)" fill="#222" stroke="#000" stroke-width="2.36"/>
<ellipse cx="1157.2" cy="1479.0" rx="10.5" ry="6.2" transform="rotate(0 1157.2 1479.0)" fill="#222" stroke="#000" stroke-width="2.36"/>
<ellipse cx="1157.2" cy="1479.0" rx="5.5" ry="2.8" transform="rotate(0 1157.2 1479.0)" fill="#999" stroke="#666" stroke-width="1.416"/>
<rect x="1151.6" y="1613.5" width="10.8" height="33" rx="4" fill="#fff" stroke="#111" stroke-width="1.8"/>
<ellipse cx="1157.0" cy="1614.0" rx="5.4" ry="3.6" transform="rotate(0 1157.0 1614.0)" fill="#111" stroke="#000" stroke-width="1.18"/>
<line x1="1152.0" y1="1630.0" x2="1162.0" y2="1630.0" stroke="#000" stroke-width="2.596"/>
<line x1="1152.0" y1="1634.2" x2="1162.0" y2="1634.2" stroke="#000" stroke-width="2.596"/>
<line x1="1152.0" y1="1638.4" x2="1162.0" y2="1638.4" stroke="#000" stroke-width="2.596"/>
<line x1="1152.0" y1="1642.6" x2="1162.0" y2="1642.6" stroke="#000" stroke-width="2.596"/>
<line x1="1151.6" y1="1627.5" x2="1151.6" y2="1644.5" stroke="#000" stroke-width="3.068"/>
<line x1="1162.4" y1="1627.5" x2="1162.4" y2="1644.5" stroke="#000" stroke-width="3.068"/>
<rect x="1151.6" y="1709.4" width="11.8" height="133.4" fill="#fff" stroke="#333" stroke-width="1.6"/>
<line x1="1163.4" y1="1710.4" x2="1163.4" y2="1841.8" stroke="#777" stroke-width="3.068"/>
<rect x="1149.9" y="1697.4" width="15.2" height="14" rx="4" fill="#fff" stroke="#222" stroke-width="2"/>
<line x1="1150.5" y1="1702.4" x2="1164.5" y2="1702.4" stroke="#161616" stroke-width="1.888"/>
<line x1="1150.5" y1="1706.9" x2="1164.5" y2="1706.9" stroke="#161616" stroke-width="1.888"/>
<rect x="1151.2" y="1840.8" width="12.6" height="10" rx="3.5" fill="#fff" stroke="#333" stroke-width="1.8"/>
<line x1="1152.0" y1="1845.8" x2="1163.0" y2="1845.8" stroke="#777" stroke-width="1.416"/>
<line x1="721.8" y1="1167.5" x2="764.3" y2="1194.5" stroke="#060606" stroke-width="2.124"/>
<ellipse cx="721.8" cy="1167.5" rx="2.3" ry="2.3" transform="rotate(0 721.8 1167.5)" fill="#111" stroke="#000" stroke-width="0.5"/>
<line x1="910.3" y1="1300.6" x2="869.8" y2="1269.8" stroke="#060606" stroke-width="2.124"/>
<ellipse cx="910.3" cy="1300.6" rx="2.3" ry="2.3" transform="rotate(0 910.3 1300.6)" fill="#111" stroke="#000" stroke-width="0.5"/>
<line x1="386.3" y1="1406.0" x2="417.0" y2="1429.0" stroke="#060606" stroke-width="2.124"/>
<ellipse cx="386.3" cy="1406.0" rx="2.3" ry="2.3" transform="rotate(0 386.3 1406.0)" fill="#111" stroke="#000" stroke-width="0.5"/>
<line x1="531.0" y1="1485.0" x2="494.3" y2="1472.6" stroke="#060606" stroke-width="2.124"/>
<ellipse cx="531.0" cy="1485.0" rx="2.3" ry="2.3" transform="rotate(0 531.0 1485.0)" fill="#111" stroke="#000" stroke-width="0.5"/>
<line x1="704.6" y1="1671.9" x2="744.0" y2="1695.0" stroke="#060606" stroke-width="2.124"/>
<ellipse cx="704.6" cy="1671.9" rx="2.3" ry="2.3" transform="rotate(0 704.6 1671.9)" fill="#111" stroke="#000" stroke-width="0.5"/>
<line x1="902.3" y1="1772.0" x2="860.0" y2="1758.7" stroke="#060606" stroke-width="2.124"/>
<ellipse cx="902.3" cy="1772.0" rx="2.3" ry="2.3" transform="rotate(0 902.3 1772.0)" fill="#111" stroke="#000" stroke-width="0.5"/>
<line x1="1066.7" y1="1517.2" x2="1091.2" y2="1529.7" stroke="#060606" stroke-width="2.124"/>
<ellipse cx="1066.7" cy="1517.2" rx="2.3" ry="2.3" transform="rotate(0 1066.7 1517.2)" fill="#111" stroke="#000" stroke-width="0.5"/>
<line x1="1197.3" y1="1592.4" x2="1168.4" y2="1572.0" stroke="#060606" stroke-width="2.124"/>
<ellipse cx="1197.3" cy="1592.4" rx="2.3" ry="2.3" transform="rotate(0 1197.3 1592.4)" fill="#111" stroke="#000" stroke-width="0.5"/>
<line x1="814.0" y1="1180.0" x2="844.7" y2="1215.7" stroke="#060606" stroke-width="2.124"/>
<ellipse cx="811.0" cy="1176.0" rx="4.6" ry="4.6" transform="rotate(0 811.0 1176.0)" fill="#fff" stroke="#000" stroke-width="3.54"/>
<line x1="784.8" y1="1675.9" x2="817.5" y2="1720.0" stroke="#060606" stroke-width="2.124"/>
<ellipse cx="781.8" cy="1671.9" rx="4.6" ry="4.6" transform="rotate(0 781.8 1671.9)" fill="#fff" stroke="#000" stroke-width="3.54"/>
<line x1="564.0" y1="1314.8" x2="600.3" y2="1347.0" stroke="#161616" stroke-width="1.888"/>
<ellipse cx="562.0" cy="1312.8" rx="3.2" ry="3.2" transform="rotate(0 562.0 1312.8)" fill="#ddd" stroke="#2a2a2a" stroke-width="1.888"/>
<line x1="906.5" y1="1595.0" x2="947.5" y2="1630.0" stroke="#161616" stroke-width="1.888"/>
<ellipse cx="904.5" cy="1593.0" rx="3.2" ry="3.2" transform="rotate(0 904.5 1593.0)" fill="#ddd" stroke="#2a2a2a" stroke-width="1.888"/>
<line x1="719.6" y1="295.5" x2="790.6" y2="334.7" stroke="#060606" stroke-width="2.242"/>
<ellipse cx="709.6" cy="289.0" rx="19" ry="12" transform="rotate(-62 709.6 289.0)" fill="none" stroke="#000" stroke-width="3.304"/>
<line x1="831.5" y1="230.8" x2="903.8" y2="270.0" stroke="#060606" stroke-width="2.242"/>
<ellipse cx="821.5" cy="224.3" rx="19" ry="12" transform="rotate(-62 821.5 224.3)" fill="none" stroke="#000" stroke-width="3.304"/>
<path d="M957.6,604.6 A12,7 0 0 1 981.6,604.6 L981.6,611.1 A12,7 0 0 1 957.6,611.1 Z" fill="#fff" stroke="#000" stroke-width="4.72" />
<ellipse cx="969.6" cy="604.6" rx="7" ry="3.2" transform="rotate(0 969.6 604.6)" fill="#fff" stroke="#000" stroke-width="3.068"/>
<path d="M958.6,608.6 A12,6 0 0 0 980.6,608.6" fill="none" stroke="#161616" stroke-width="1.888" />
<path d="M869.0,656.5 A12,7 0 0 1 893.0,656.5 L893.0,663.0 A12,7 0 0 1 869.0,663.0 Z" fill="#fff" stroke="#000" stroke-width="4.72" />
<ellipse cx="881.0" cy="656.5" rx="7" ry="3.2" transform="rotate(0 881.0 656.5)" fill="#fff" stroke="#000" stroke-width="3.068"/>
<path d="M870.0,660.5 A12,6 0 0 0 892.0,660.5" fill="none" stroke="#161616" stroke-width="1.888" />
<path d="M757.0,713.0 A12,7 0 0 1 781.0,713.0 L781.0,719.5 A12,7 0 0 1 757.0,719.5 Z" fill="#fff" stroke="#000" stroke-width="4.72" />
<ellipse cx="769.0" cy="713.0" rx="7" ry="3.2" transform="rotate(0 769.0 713.0)" fill="#fff" stroke="#000" stroke-width="3.068"/>
<path d="M758.0,717.0 A12,6 0 0 0 780.0,717.0" fill="none" stroke="#161616" stroke-width="1.888" />
<path d="M658.4,779.0 A12,7 0 0 1 682.4,779.0 L682.4,785.5 A12,7 0 0 1 658.4,785.5 Z" fill="#fff" stroke="#000" stroke-width="4.72" />
<ellipse cx="670.4" cy="779.0" rx="7" ry="3.2" transform="rotate(0 670.4 779.0)" fill="#fff" stroke="#000" stroke-width="3.068"/>
<path d="M659.4,783.0 A12,6 0 0 0 681.4,783.0" fill="none" stroke="#161616" stroke-width="1.888" />
<path d="M569.8,829.7 A12,7 0 0 1 593.8,829.7 L593.8,836.2 A12,7 0 0 1 569.8,836.2 Z" fill="#fff" stroke="#000" stroke-width="4.72" />
<ellipse cx="581.8" cy="829.7" rx="7" ry="3.2" transform="rotate(0 581.8 829.7)" fill="#fff" stroke="#000" stroke-width="3.068"/>
<path d="M570.8,833.7 A12,6 0 0 0 592.8,833.7" fill="none" stroke="#161616" stroke-width="1.888" />
<rect x="1026.4" y="75.4" width="9.2" height="64.6" fill="#fff" stroke="#333" stroke-width="1.6"/>
<rect x="1027.2" y="140.0" width="7.6" height="20.0" fill="#fff" stroke="#333" stroke-width="1.6"/>
<path d="M1023.0,75.4 L1023.0,70.4 Q1024.0,63.4 1031.0,62.4 Q1038.0,63.4 1039.0,70.4 L1039.0,75.4 Q1031.0,79.4 1023.0,75.4 Z" fill="#222" stroke="#000" stroke-width="2.596" />
<ellipse cx="1031.0" cy="66.9" rx="4.0" ry="2.2" transform="rotate(0 1031.0 66.9)" fill="#999" stroke="#777" stroke-width="1.18"/>
<line x1="1031.0" y1="160.0" x2="1031.0" y2="240.0" stroke="#161616" stroke-width="1.888"/>
<rect x="1080.9" y="165.0" width="9.2" height="35.6" fill="#fff" stroke="#333" stroke-width="1.6"/>
<rect x="1081.7" y="200.6" width="7.6" height="15.4" fill="#fff" stroke="#333" stroke-width="1.6"/>
<path d="M1077.5,165.0 L1077.5,160.0 Q1078.5,153.0 1085.5,152.0 Q1092.5,153.0 1093.5,160.0 L1093.5,165.0 Q1085.5,169.0 1077.5,165.0 Z" fill="#222" stroke="#000" stroke-width="2.596" />
<ellipse cx="1085.5" cy="156.5" rx="4.0" ry="2.2" transform="rotate(0 1085.5 156.5)" fill="#999" stroke="#777" stroke-width="1.18"/>
<line x1="1085.5" y1="216.0" x2="1085.5" y2="285.0" stroke="#161616" stroke-width="1.888"/>
<rect x="622.5" y="1136.0" width="10.2" height="68.0" fill="#fff" stroke="#333" stroke-width="1.6"/>
<rect x="623.3" y="1204.0" width="8.6" height="23.5" fill="#fff" stroke="#333" stroke-width="1.6"/>
<path d="M617.1,1136.0 L617.1,1131.0 Q618.1,1124.0 627.6,1123.0 Q637.1,1124.0 638.1,1131.0 L638.1,1136.0 Q627.6,1140.0 617.1,1136.0 Z" fill="#222" stroke="#000" stroke-width="2.596" />
<ellipse cx="627.6" cy="1127.5" rx="5.25" ry="2.2" transform="rotate(0 627.6 1127.5)" fill="#999" stroke="#777" stroke-width="1.18"/>
<rect x="970.5" y="1379.0" width="10.2" height="68.0" fill="#fff" stroke="#333" stroke-width="1.6"/>
<rect x="971.3" y="1447.0" width="8.6" height="23.5" fill="#fff" stroke="#333" stroke-width="1.6"/>
<path d="M965.1,1379.0 L965.1,1374.0 Q966.1,1367.0 975.6,1366.0 Q985.1,1367.0 986.1,1374.0 L986.1,1379.0 Q975.6,1383.0 965.1,1379.0 Z" fill="#222" stroke="#000" stroke-width="2.596" />
<ellipse cx="975.6" cy="1370.5" rx="5.25" ry="2.2" transform="rotate(0 975.6 1370.5)" fill="#999" stroke="#777" stroke-width="1.18"/>
<path d="M946.6,1566 Q947,1558 958,1557.5 Q969,1558 969.6,1566 L969.6,1572 Q958,1580 946.6,1572 Z" fill="#fff" stroke="#000" stroke-width="2.596" />
<ellipse cx="958.1" cy="1563.5" rx="8" ry="3.4" transform="rotate(0 958.1 1563.5)" fill="#fff" stroke="#060606" stroke-width="1.888"/>
<rect x="953.4" y="1576" width="9.4" height="8" fill="#fff" stroke="#222" stroke-width="1.6"/>
<line x1="958.1" y1="1584.0" x2="958.1" y2="1613.0" stroke="#161616" stroke-width="1.888"/>
<line x1="627.7" y1="1228.0" x2="627.7" y2="1264.0" stroke="#8a8a8a" stroke-width="3.54"/>
<line x1="627.7" y1="1293.0" x2="627.7" y2="1346.0" stroke="#8a8a8a" stroke-width="3.54"/>
<line x1="975.8" y1="1471.0" x2="975.8" y2="1511.0" stroke="#8a8a8a" stroke-width="3.54"/>
<line x1="975.8" y1="1539.0" x2="975.8" y2="1640.0" stroke="#8a8a8a" stroke-width="3.54"/>
<path d="M611.3,1273.9 L627.3,1263.9 L643.8,1273.9 L643.8,1285.4 L632.8,1293.2 L611.3,1285.4 Z" fill="#fff" stroke="#060606" stroke-width="2.36" />
<path d="M611.3,1273.9 L632.8,1281.4 L643.8,1273.9 M632.8,1281.4 L632.8,1293.2" fill="none" stroke="#161616" stroke-width="1.888" />
<ellipse cx="629.8" cy="1272.9" rx="5.2" ry="3.4" transform="rotate(0 629.8 1272.9)" fill="#888" stroke="#060606" stroke-width="2.596"/>
<path d="M614.3,1286.4 Q621.3,1277.4 628.3,1291.4" fill="#fff" stroke="#161616" stroke-width="1.888" />
<path d="M959.9,1520.4 L975.9,1510.4 L992.4,1520.4 L992.4,1531.9 L981.4,1539.7 L959.9,1531.9 Z" fill="#fff" stroke="#060606" stroke-width="2.36" />
<path d="M959.9,1520.4 L981.4,1527.9 L992.4,1520.4 M981.4,1527.9 L981.4,1539.7" fill="none" stroke="#161616" stroke-width="1.888" />
<ellipse cx="978.4" cy="1519.4" rx="5.2" ry="3.4" transform="rotate(0 978.4 1519.4)" fill="#888" stroke="#060606" stroke-width="2.596"/>
<path d="M962.9,1532.9 Q969.9,1523.9 976.9,1537.9" fill="#fff" stroke="#161616" stroke-width="1.888" />
<path d="M959.0,1664.0 L959.0,1710.0 L988.0,1723.6 L1000.6,1720.5 L1000.6,1639.0 Q1000.0,1631.0 992.6,1630.5 Q985.0,1631.0 984.2,1639.0 L984.2,1668.0 L972.0,1680.0 Z" fill="#fff" stroke="#000" stroke-width="2.596" />
<rect x="959.0" y="1674.0" width="9.7" height="36" fill="#aaa"/>
<line x1="968.7" y1="1676.0" x2="968.7" y2="1714.5" stroke="#161616" stroke-width="1.77"/>
<line x1="980.3" y1="1680.0" x2="980.3" y2="1720.0" stroke="#161616" stroke-width="1.77"/>
<line x1="985.1" y1="1668.0" x2="985.1" y2="1722.0" stroke="#161616" stroke-width="1.77"/>
<line x1="995.2" y1="1640.0" x2="995.2" y2="1722.0" stroke="#161616" stroke-width="1.77"/>
<line x1="1000.6" y1="1639.0" x2="1000.6" y2="1720.5" stroke="#000" stroke-width="3.54"/>
<ellipse cx="992.6" cy="1636.5" rx="3.2" ry="2.6" transform="rotate(0 992.6 1636.5)" fill="#333" stroke="#060606" stroke-width="1.416"/>
<path d="M987.5,1642.0 L987.5,1662.0 L995.0,1660.0" fill="none" stroke="#060606" stroke-width="1.888" />
<path d="M957.0,1638.0 Q956.0,1666.0 972.0,1671.0 Q985.0,1666.0 982.0,1642.0" fill="none" stroke="#000" stroke-width="12.389999999999999" />
<path d="M957.0,1638.0 Q956.0,1666.0 972.0,1671.0 Q985.0,1666.0 982.0,1642.0" fill="none" stroke="#f4f4f4" stroke-width="7.08" />
<path d="M964.0,1646.0 Q966.0,1660.0 973.5,1662.0 Q978.0,1657.0 975.0,1648.0" fill="none" stroke="#060606" stroke-width="5.31" />
<rect x="949.6" y="1617.0" width="21" height="20" rx="3" fill="#2a2a2a" stroke="#111" stroke-width="1.6"/>
<ellipse cx="960.0" cy="1617.5" rx="10.2" ry="4.4" transform="rotate(0 960.0 1617.5)" fill="#fff" stroke="#000" stroke-width="2.124"/>
<line x1="954.0" y1="1624.0" x2="954.0" y2="1635.0" stroke="#bbb" stroke-width="1.77"/>
<line x1="958.5" y1="1624.0" x2="958.5" y2="1635.0" stroke="#bbb" stroke-width="1.77"/>
<line x1="963.0" y1="1624.0" x2="963.0" y2="1635.0" stroke="#bbb" stroke-width="1.77"/>
<line x1="967.0" y1="1624.0" x2="967.0" y2="1635.0" stroke="#bbb" stroke-width="1.77"/>
<path d="M946.0,1633.0 L951.0,1629.0 L951.0,1641.0 Z" fill="#333" stroke="#000" stroke-width="1.416" />
<path d="M610.5,1378.5 L610.5,1424.5 L639.5,1438.1 L652.1,1435.0 L652.1,1353.5 Q651.5,1345.5 644.1,1345.0 Q636.5,1345.5 635.7,1353.5 L635.7,1382.5 L623.5,1394.5 Z" fill="#fff" stroke="#000" stroke-width="2.596" />
<rect x="610.5" y="1388.5" width="9.7" height="36" fill="#aaa"/>
<line x1="620.2" y1="1390.5" x2="620.2" y2="1429.0" stroke="#161616" stroke-width="1.77"/>
<line x1="631.8" y1="1394.5" x2="631.8" y2="1434.5" stroke="#161616" stroke-width="1.77"/>
<line x1="636.6" y1="1382.5" x2="636.6" y2="1436.5" stroke="#161616" stroke-width="1.77"/>
<line x1="646.7" y1="1354.5" x2="646.7" y2="1436.5" stroke="#161616" stroke-width="1.77"/>
<line x1="652.1" y1="1353.5" x2="652.1" y2="1435.0" stroke="#000" stroke-width="3.54"/>
<ellipse cx="644.1" cy="1351.0" rx="3.2" ry="2.6" transform="rotate(0 644.1 1351.0)" fill="#333" stroke="#060606" stroke-width="1.416"/>
<path d="M639.0,1356.5 L639.0,1376.5 L646.5,1374.5" fill="none" stroke="#060606" stroke-width="1.888" />
<path d="M608.5,1352.5 Q607.5,1380.5 623.5,1385.5 Q636.5,1380.5 633.5,1356.5" fill="none" stroke="#000" stroke-width="12.389999999999999" />
<path d="M608.5,1352.5 Q607.5,1380.5 623.5,1385.5 Q636.5,1380.5 633.5,1356.5" fill="none" stroke="#f4f4f4" stroke-width="7.08" />
<path d="M615.5,1360.5 Q617.5,1374.5 625.0,1376.5 Q629.5,1371.5 626.5,1362.5" fill="none" stroke="#060606" stroke-width="5.31" />
<rect x="601.1" y="1331.5" width="21" height="20" rx="3" fill="#2a2a2a" stroke="#111" stroke-width="1.6"/>
<ellipse cx="611.5" cy="1332.0" rx="10.2" ry="4.4" transform="rotate(0 611.5 1332.0)" fill="#fff" stroke="#000" stroke-width="2.124"/>
<line x1="605.5" y1="1338.5" x2="605.5" y2="1349.5" stroke="#bbb" stroke-width="1.77"/>
<line x1="610.0" y1="1338.5" x2="610.0" y2="1349.5" stroke="#bbb" stroke-width="1.77"/>
<line x1="614.5" y1="1338.5" x2="614.5" y2="1349.5" stroke="#bbb" stroke-width="1.77"/>
<line x1="618.5" y1="1338.5" x2="618.5" y2="1349.5" stroke="#bbb" stroke-width="1.77"/>
<path d="M597.5,1347.5 L602.5,1343.5 L602.5,1355.5 Z" fill="#333" stroke="#000" stroke-width="1.416" />
<path d="M426.0,1432.0 C443.0,1430.0 456.0,1439.8 470.0,1456.8" fill="none" stroke="#000" stroke-width="11.799999999999999" />
<path d="M426.0,1432.0 C443.0,1430.0 456.0,1439.8 470.0,1456.8" fill="none" stroke="#ddd" stroke-width="5.427999999999999" />
<path d="M428.0,1444.0 L438.0,1454.8" fill="none" stroke="#000" stroke-width="8.85" />
<path d="M428.0,1444.0 L438.0,1454.8" fill="none" stroke="#999" stroke-width="3.54" />
<path d="M436.2,1452.9 L449.2,1445.4 A19.5,11.3 60 0 1 468.7,1479.2 L455.8,1486.7 Z" fill="#fff" stroke="#000" stroke-width="3.068" />
<ellipse cx="446.0" cy="1469.8" rx="19.5" ry="11.258325000000001" transform="rotate(60 446.0 1469.8)" fill="#fff" stroke="#000" stroke-width="3.776"/>
<path d="M449.2,1445.4 A19.5,11.3 60 0 1 468.7,1479.2" fill="none" stroke="#000" stroke-width="3.54" />
<path d="M442.3,1449.4 A19.5,11.3 60 0 1 461.8,1483.2" fill="none" stroke="#2a2a2a" stroke-width="1.888" />
<rect x="474.7" y="1454.0" width="20" height="24" rx="4" fill="#eee" stroke="#111" stroke-width="2.2"/>
<path d="M485.7,1466.0 L494.7,1461.0 L494.7,1474.0 L485.7,1478.0 Z" fill="#111" stroke="#000" stroke-width="1.18" />
<ellipse cx="484.7" cy="1455.0" rx="9.6" ry="4.2" transform="rotate(0 484.7 1455.0)" fill="#333" stroke="#000" stroke-width="2.832"/>
<ellipse cx="484.7" cy="1455.0" rx="4.5" ry="1.8" transform="rotate(0 484.7 1455.0)" fill="#aaa" stroke="#888" stroke-width="1.18"/>
<path d="M416.6,1431.0 L423.0,1427.0 L429.4,1431.0 L429.4,1448.0 L423.0,1452.0 L416.6,1448.0 Z" fill="#333" stroke="#000" stroke-width="2.596" />
<line x1="420.0" y1="1435.0" x2="427.0" y2="1433.0" stroke="#aaa" stroke-width="2.36"/>
<ellipse cx="446.0" cy="1469.8" rx="19.5" ry="11.258325000000001" transform="rotate(60 446.0 1469.8)" fill="#fff" stroke="#000" stroke-width="4.72"/>
<ellipse cx="446.0" cy="1469.8" rx="14" ry="8.0829" transform="rotate(60 446.0 1469.8)" fill="#fff" stroke="#060606" stroke-width="2.124"/>
<line x1="443.0" y1="1471.3" x2="448.0" y2="1468.8" stroke="#161616" stroke-width="1.416"/>
<path d="M1099.0,1528.5 C1116.0,1526.5 1137.9,1534.4 1151.9,1551.4" fill="none" stroke="#000" stroke-width="11.799999999999999" />
<path d="M1099.0,1528.5 C1116.0,1526.5 1137.9,1534.4 1151.9,1551.4" fill="none" stroke="#ddd" stroke-width="5.427999999999999" />
<path d="M1101.0,1540.5 L1119.9,1549.4" fill="none" stroke="#000" stroke-width="8.85" />
<path d="M1101.0,1540.5 L1119.9,1549.4" fill="none" stroke="#999" stroke-width="3.54" />
<path d="M1118.2,1547.5 L1131.1,1540.0 A19.5,11.3 60 0 1 1150.6,1573.8 L1137.7,1581.3 Z" fill="#fff" stroke="#000" stroke-width="3.068" />
<ellipse cx="1127.9" cy="1564.4" rx="19.5" ry="11.258325000000001" transform="rotate(60 1127.9 1564.4)" fill="#fff" stroke="#000" stroke-width="3.776"/>
<path d="M1131.1,1540.0 A19.5,11.3 60 0 1 1150.6,1573.8" fill="none" stroke="#000" stroke-width="3.54" />
<path d="M1124.2,1544.0 A19.5,11.3 60 0 1 1143.7,1577.8" fill="none" stroke="#2a2a2a" stroke-width="1.888" />
<rect x="1149.2" y="1551.5" width="20" height="24" rx="4" fill="#eee" stroke="#111" stroke-width="2.2"/>
<path d="M1160.2,1563.5 L1169.2,1558.5 L1169.2,1571.5 L1160.2,1575.5 Z" fill="#111" stroke="#000" stroke-width="1.18" />
<ellipse cx="1159.2" cy="1552.5" rx="9.6" ry="4.2" transform="rotate(0 1159.2 1552.5)" fill="#333" stroke="#000" stroke-width="2.832"/>
<ellipse cx="1159.2" cy="1552.5" rx="4.5" ry="1.8" transform="rotate(0 1159.2 1552.5)" fill="#aaa" stroke="#888" stroke-width="1.18"/>
<path d="M1089.6,1527.5 L1096.0,1523.5 L1102.4,1527.5 L1102.4,1544.5 L1096.0,1548.5 L1089.6,1544.5 Z" fill="#333" stroke="#000" stroke-width="2.596" />
<line x1="1093.0" y1="1531.5" x2="1100.0" y2="1529.5" stroke="#aaa" stroke-width="2.36"/>
<ellipse cx="1127.9" cy="1564.4" rx="19.5" ry="11.258325000000001" transform="rotate(60 1127.9 1564.4)" fill="#fff" stroke="#000" stroke-width="4.72"/>
<ellipse cx="1127.9" cy="1564.4" rx="14" ry="8.0829" transform="rotate(60 1127.9 1564.4)" fill="#fff" stroke="#060606" stroke-width="2.124"/>
<line x1="1124.9" y1="1565.9" x2="1129.9" y2="1563.4" stroke="#161616" stroke-width="1.416"/>
<path d="M773.0,1200.0 C799.0,1202.0 814.5,1209.4 844.5,1231.4" fill="none" stroke="#000" stroke-width="11.209999999999999" />
<path d="M773.0,1200.0 C799.0,1202.0 814.5,1209.4 844.5,1231.4" fill="none" stroke="#e4e4e4" stroke-width="5.427999999999999" />
<path d="M775.0,1216.0 C795.0,1220.0 800.5,1221.4 810.5,1237.4" fill="none" stroke="#000" stroke-width="8.85" />
<path d="M775.0,1216.0 C795.0,1220.0 800.5,1221.4 810.5,1237.4" fill="none" stroke="#ccc" stroke-width="3.54" />
<path d="M812.8,1236.5 L825.7,1229.0 A19.5,11.3 60 0 1 845.2,1262.8 L832.2,1270.3 Z" fill="#fff" stroke="#000" stroke-width="3.068" />
<ellipse cx="822.5" cy="1253.4" rx="19.5" ry="11.258325000000001" transform="rotate(60 822.5 1253.4)" fill="#fff" stroke="#000" stroke-width="3.776"/>
<path d="M825.7,1229.0 A19.5,11.3 60 0 1 845.2,1262.8" fill="none" stroke="#000" stroke-width="3.54" />
<path d="M818.8,1233.0 A19.5,11.3 60 0 1 838.3,1266.8" fill="none" stroke="#2a2a2a" stroke-width="1.888" />
<path d="M843.4,1233.0 L845.4,1215.0 Q852.4,1205.0 859.4,1215.0 L860.4,1235.0 Z" fill="#eee" stroke="#000" stroke-width="2.832" />
<ellipse cx="852.4" cy="1216.0" rx="4.5" ry="6" transform="rotate(20 852.4 1216.0)" fill="#fff" stroke="#060606" stroke-width="2.124"/>
<rect x="850.6" y="1249.6" width="20" height="24" rx="4" fill="#eee" stroke="#111" stroke-width="2.2"/>
<path d="M861.6,1261.6 L870.6,1256.6 L870.6,1269.6 L861.6,1273.6 Z" fill="#111" stroke="#000" stroke-width="1.18" />
<ellipse cx="860.6" cy="1250.6" rx="9.6" ry="4.2" transform="rotate(0 860.6 1250.6)" fill="#333" stroke="#000" stroke-width="2.832"/>
<ellipse cx="860.6" cy="1250.6" rx="4.5" ry="1.8" transform="rotate(0 860.6 1250.6)" fill="#aaa" stroke="#888" stroke-width="1.18"/>
<path d="M761.0,1200.0 L769.0,1196.0 L777.0,1200.0 L777.0,1217.0 L769.0,1221.0 L761.0,1217.0 Z" fill="#ddd" stroke="#000" stroke-width="2.596" />
<line x1="769.0" y1="1203.0" x2="769.0" y2="1222.0" stroke="#060606" stroke-width="1.888"/>
<path d="M761.0,1199.0 L769.0,1203.0 L777.0,1199.0" fill="none" stroke="#060606" stroke-width="1.888" />
<line x1="764.0" y1="1208.0" x2="764.0" y2="1219.0" stroke="#777" stroke-width="2.36"/>
<ellipse cx="822.5" cy="1253.4" rx="19.5" ry="11.258325000000001" transform="rotate(60 822.5 1253.4)" fill="#fff" stroke="#000" stroke-width="4.72"/>
<ellipse cx="822.5" cy="1253.4" rx="14" ry="8.0829" transform="rotate(60 822.5 1253.4)" fill="#fff" stroke="#060606" stroke-width="2.124"/>
<line x1="819.5" y1="1254.9" x2="824.5" y2="1252.4" stroke="#161616" stroke-width="1.416"/>
<path d="M755.0,1698.0 C781.0,1700.0 792.5,1709.0 822.5,1731.0" fill="none" stroke="#000" stroke-width="11.209999999999999" />
<path d="M755.0,1698.0 C781.0,1700.0 792.5,1709.0 822.5,1731.0" fill="none" stroke="#e4e4e4" stroke-width="5.427999999999999" />
<path d="M757.0,1714.0 C777.0,1718.0 778.5,1721.0 788.5,1737.0" fill="none" stroke="#000" stroke-width="8.85" />
<path d="M757.0,1714.0 C777.0,1718.0 778.5,1721.0 788.5,1737.0" fill="none" stroke="#ccc" stroke-width="3.54" />
<path d="M790.8,1736.1 L803.7,1728.6 A19.5,11.3 60 0 1 823.2,1762.4 L810.2,1769.9 Z" fill="#fff" stroke="#000" stroke-width="3.068" />
<ellipse cx="800.5" cy="1753.0" rx="19.5" ry="11.258325000000001" transform="rotate(60 800.5 1753.0)" fill="#fff" stroke="#000" stroke-width="3.776"/>
<path d="M803.7,1728.6 A19.5,11.3 60 0 1 823.2,1762.4" fill="none" stroke="#000" stroke-width="3.54" />
<path d="M796.8,1732.6 A19.5,11.3 60 0 1 816.3,1766.4" fill="none" stroke="#2a2a2a" stroke-width="1.888" />
<path d="M819.0,1736.0 L821.0,1718.0 Q828.0,1708.0 835.0,1718.0 L836.0,1738.0 Z" fill="#eee" stroke="#000" stroke-width="2.832" />
<ellipse cx="828.0" cy="1719.0" rx="4.5" ry="6" transform="rotate(20 828.0 1719.0)" fill="#fff" stroke="#060606" stroke-width="2.124"/>
<rect x="838.5" y="1745.0" width="20" height="24" rx="4" fill="#eee" stroke="#111" stroke-width="2.2"/>
<path d="M849.5,1757.0 L858.5,1752.0 L858.5,1765.0 L849.5,1769.0 Z" fill="#111" stroke="#000" stroke-width="1.18" />
<ellipse cx="848.5" cy="1746.0" rx="9.6" ry="4.2" transform="rotate(0 848.5 1746.0)" fill="#333" stroke="#000" stroke-width="2.832"/>
<ellipse cx="848.5" cy="1746.0" rx="4.5" ry="1.8" transform="rotate(0 848.5 1746.0)" fill="#aaa" stroke="#888" stroke-width="1.18"/>
<path d="M743.0,1698.0 L751.0,1694.0 L759.0,1698.0 L759.0,1715.0 L751.0,1719.0 L743.0,1715.0 Z" fill="#ddd" stroke="#000" stroke-width="2.596" />
<line x1="751.0" y1="1701.0" x2="751.0" y2="1720.0" stroke="#060606" stroke-width="1.888"/>
<path d="M743.0,1697.0 L751.0,1701.0 L759.0,1697.0" fill="none" stroke="#060606" stroke-width="1.888" />
<line x1="746.0" y1="1706.0" x2="746.0" y2="1717.0" stroke="#777" stroke-width="2.36"/>
<ellipse cx="800.5" cy="1753.0" rx="19.5" ry="11.258325000000001" transform="rotate(60 800.5 1753.0)" fill="#fff" stroke="#000" stroke-width="4.72"/>
<ellipse cx="800.5" cy="1753.0" rx="14" ry="8.0829" transform="rotate(60 800.5 1753.0)" fill="#fff" stroke="#060606" stroke-width="2.124"/>
<line x1="797.5" y1="1754.5" x2="802.5" y2="1752.0" stroke="#161616" stroke-width="1.416"/>
<line x1="844.0" y1="1615.0" x2="844.0" y2="1627.0" stroke="#000" stroke-width="4.6"/>
<polygon points="844.0,1662.0 833.2,1623.0 854.8,1623.0" fill="#000"/>
<path d="M534.2,971.4 C534.2,967.7 538.2,962.6 540.5,958.7 C542.8,954.8 540.3,952.5 546.8,950.0 C553.3,947.5 562.8,946.4 576.0,944.8 C589.2,943.1 609.3,943.1 619.0,941.0 C628.7,938.9 627.6,936.6 629.0,933.4 C630.4,930.2 627.5,927.0 626.6,923.3 C625.7,919.6 622.6,917.2 624.0,913.0 C625.4,908.8 627.0,904.4 634.0,900.5 C641.0,896.6 648.5,893.5 662.0,891.6 C675.5,889.7 697.1,892.5 707.6,890.4 C718.1,888.3 717.8,884.2 719.0,880.0 C720.2,875.8 714.7,871.3 714.0,867.6 C713.3,863.9 712.9,863.5 715.0,860.0 C717.1,856.5 718.3,852.1 725.3,848.6 C732.3,845.1 739.5,842.9 753.0,841.0 C766.5,839.1 788.5,840.3 798.7,838.5 C808.9,836.7 807.7,834.9 808.9,831.0 C810.1,827.1 805.2,821.4 805.0,817.2 C804.8,813.0 804.1,812.7 807.6,808.0 C811.1,803.3 815.1,796.1 824.0,791.6 C832.9,787.1 846.5,784.0 856.0,783.5 C865.5,783.0 869.6,788.2 876.0,789.0 C882.4,789.8 886.8,789.8 891.0,788.0 C895.2,786.2 897.6,783.4 898.7,779.2 C899.8,775.0 895.8,770.4 896.8,765.0 C897.8,759.6 900.6,754.8 904.0,750.0 C907.4,745.2 907.4,742.2 915.2,738.7 C923.0,735.2 937.7,731.2 946.8,731.0 C955.9,730.8 958.6,736.5 964.6,737.5 C970.6,738.5 975.5,738.1 979.7,736.2 C983.9,734.3 986.4,731.0 987.3,727.3 C988.2,723.6 983.9,721.1 984.8,716.0 C985.7,710.9 988.7,704.9 992.4,699.5 C996.1,694.1 997.1,690.3 1005.0,686.8 C1012.9,683.3 1026.1,680.5 1035.4,680.5 C1044.7,680.5 1048.3,686.8 1055.7,686.8 C1063.1,686.8 1070.0,681.2 1076.0,680.5 C1082.0,679.8 1084.4,680.9 1088.6,683.0 C1092.8,685.1 1097.8,688.0 1098.7,692.0 C1099.6,696.0 1093.5,700.7 1093.7,704.6 C1093.9,708.5 1096.3,711.3 1100.0,713.4 C1103.7,715.5 1108.2,716.5 1114.0,716.0 C1119.8,715.5 1126.5,710.9 1131.6,710.9 C1136.7,710.9 1139.0,712.3 1141.8,716.0 C1144.6,719.7 1145.7,725.0 1146.8,731.0 C1147.9,737.0 1153.1,740.5 1148.0,748.9 C1142.9,757.3 1128.0,772.3 1119.0,776.7 C1110.0,781.1 1111.5,772.5 1098.7,773.0 C1085.9,773.5 1059.1,776.7 1049.4,779.2 C1039.7,781.7 1044.9,783.1 1045.6,786.8 C1046.3,790.5 1051.3,795.8 1053.2,799.5 C1055.1,803.2 1059.9,801.7 1055.7,807.0 C1051.5,812.3 1037.8,825.1 1030.4,828.6 C1023.0,832.1 1027.7,825.3 1015.2,826.0 C1002.7,826.7 972.9,829.8 962.0,832.4 C951.1,835.0 955.2,836.3 955.7,840.0 C956.2,843.7 963.0,849.0 964.6,852.7 C966.2,856.4 968.8,855.4 964.6,860.3 C960.4,865.2 948.8,876.2 941.8,879.2 C934.8,882.2 938.4,876.0 926.6,876.7 C914.8,877.4 888.1,881.0 877.2,882.8 C866.3,884.6 868.0,883.4 867.0,886.6 C866.0,889.8 870.1,895.6 872.0,900.5 C873.9,905.4 878.1,909.5 877.2,913.2 C876.3,916.9 874.0,917.6 867.0,920.8 C860.0,924.0 853.6,928.8 839.2,930.9 C824.8,933.0 799.7,930.8 788.6,932.0 C777.5,933.2 779.4,934.2 778.5,937.2 C777.6,940.2 781.6,943.7 783.5,948.6 C785.4,953.5 789.5,959.6 788.6,963.8 C787.7,968.0 785.5,968.4 778.5,971.4 C771.5,974.4 765.0,978.1 750.6,980.2 C736.2,982.3 711.4,981.2 700.0,982.8 C688.6,984.4 689.5,986.0 688.6,989.0 C687.7,992.0 692.9,995.0 695.0,999.2 C697.1,1003.4 700.5,1008.3 700.0,1012.0 C699.5,1015.7 700.3,1015.8 692.4,1019.5 C684.5,1023.2 672.3,1028.5 657.0,1032.0 C641.7,1035.5 620.5,1038.5 608.9,1038.5 C597.3,1038.5 597.4,1034.5 593.7,1032.0 C590.0,1029.5 588.6,1027.8 588.6,1024.6 C588.6,1021.4 594.6,1017.7 593.7,1014.4 C592.8,1011.1 589.1,1008.7 583.5,1006.8 C577.9,1004.9 571.2,1005.7 563.3,1004.3 C555.4,1002.9 545.8,1002.0 540.5,999.2 C535.2,996.4 534.2,992.7 534.2,989.0 C534.2,985.3 540.5,982.2 540.5,979.0 C540.5,975.8 534.2,975.1 534.2,971.4 Z" fill="none" stroke="#000" stroke-width="5.8999999999999995" />
<path d="M534.2,971.4 C534.2,967.7 538.2,962.6 540.5,958.7 C542.8,954.8 540.3,952.5 546.8,950.0 C553.3,947.5 562.8,946.4 576.0,944.8 C589.2,943.1 609.3,943.1 619.0,941.0 C628.7,938.9 627.6,936.6 629.0,933.4 C630.4,930.2 627.5,927.0 626.6,923.3 C625.7,919.6 622.6,917.2 624.0,913.0 C625.4,908.8 627.0,904.4 634.0,900.5 C641.0,896.6 648.5,893.5 662.0,891.6 C675.5,889.7 697.1,892.5 707.6,890.4 C718.1,888.3 717.8,884.2 719.0,880.0 C720.2,875.8 714.7,871.3 714.0,867.6 C713.3,863.9 712.9,863.5 715.0,860.0 C717.1,856.5 718.3,852.1 725.3,848.6 C732.3,845.1 739.5,842.9 753.0,841.0 C766.5,839.1 788.5,840.3 798.7,838.5 C808.9,836.7 807.7,834.9 808.9,831.0 C810.1,827.1 805.2,821.4 805.0,817.2 C804.8,813.0 804.1,812.7 807.6,808.0 C811.1,803.3 815.1,796.1 824.0,791.6 C832.9,787.1 846.5,784.0 856.0,783.5 C865.5,783.0 869.6,788.2 876.0,789.0 C882.4,789.8 886.8,789.8 891.0,788.0 C895.2,786.2 897.6,783.4 898.7,779.2 C899.8,775.0 895.8,770.4 896.8,765.0 C897.8,759.6 900.6,754.8 904.0,750.0 C907.4,745.2 907.4,742.2 915.2,738.7 C923.0,735.2 937.7,731.2 946.8,731.0 C955.9,730.8 958.6,736.5 964.6,737.5 C970.6,738.5 975.5,738.1 979.7,736.2 C983.9,734.3 986.4,731.0 987.3,727.3 C988.2,723.6 983.9,721.1 984.8,716.0 C985.7,710.9 988.7,704.9 992.4,699.5 C996.1,694.1 997.1,690.3 1005.0,686.8 C1012.9,683.3 1026.1,680.5 1035.4,680.5 C1044.7,680.5 1048.3,686.8 1055.7,686.8 C1063.1,686.8 1070.0,681.2 1076.0,680.5 C1082.0,679.8 1084.4,680.9 1088.6,683.0 C1092.8,685.1 1097.8,688.0 1098.7,692.0 C1099.6,696.0 1093.5,700.7 1093.7,704.6 C1093.9,708.5 1096.3,711.3 1100.0,713.4 C1103.7,715.5 1108.2,716.5 1114.0,716.0 C1119.8,715.5 1126.5,710.9 1131.6,710.9 C1136.7,710.9 1139.0,712.3 1141.8,716.0 C1144.6,719.7 1145.7,725.0 1146.8,731.0 C1147.9,737.0 1153.1,740.5 1148.0,748.9 C1142.9,757.3 1128.0,772.3 1119.0,776.7 C1110.0,781.1 1111.5,772.5 1098.7,773.0 C1085.9,773.5 1059.1,776.7 1049.4,779.2 C1039.7,781.7 1044.9,783.1 1045.6,786.8 C1046.3,790.5 1051.3,795.8 1053.2,799.5 C1055.1,803.2 1059.9,801.7 1055.7,807.0 C1051.5,812.3 1037.8,825.1 1030.4,828.6 C1023.0,832.1 1027.7,825.3 1015.2,826.0 C1002.7,826.7 972.9,829.8 962.0,832.4 C951.1,835.0 955.2,836.3 955.7,840.0 C956.2,843.7 963.0,849.0 964.6,852.7 C966.2,856.4 968.8,855.4 964.6,860.3 C960.4,865.2 948.8,876.2 941.8,879.2 C934.8,882.2 938.4,876.0 926.6,876.7 C914.8,877.4 888.1,881.0 877.2,882.8 C866.3,884.6 868.0,883.4 867.0,886.6 C866.0,889.8 870.1,895.6 872.0,900.5 C873.9,905.4 878.1,909.5 877.2,913.2 C876.3,916.9 874.0,917.6 867.0,920.8 C860.0,924.0 853.6,928.8 839.2,930.9 C824.8,933.0 799.7,930.8 788.6,932.0 C777.5,933.2 779.4,934.2 778.5,937.2 C777.6,940.2 781.6,943.7 783.5,948.6 C785.4,953.5 789.5,959.6 788.6,963.8 C787.7,968.0 785.5,968.4 778.5,971.4 C771.5,974.4 765.0,978.1 750.6,980.2 C736.2,982.3 711.4,981.2 700.0,982.8 C688.6,984.4 689.5,986.0 688.6,989.0 C687.7,992.0 692.9,995.0 695.0,999.2 C697.1,1003.4 700.5,1008.3 700.0,1012.0 C699.5,1015.7 700.3,1015.8 692.4,1019.5 C684.5,1023.2 672.3,1028.5 657.0,1032.0 C641.7,1035.5 620.5,1038.5 608.9,1038.5 C597.3,1038.5 597.4,1034.5 593.7,1032.0 C590.0,1029.5 588.6,1027.8 588.6,1024.6 C588.6,1021.4 594.6,1017.7 593.7,1014.4 C592.8,1011.1 589.1,1008.7 583.5,1006.8 C577.9,1004.9 571.2,1005.7 563.3,1004.3 C555.4,1002.9 545.8,1002.0 540.5,999.2 C535.2,996.4 534.2,992.7 534.2,989.0 C534.2,985.3 540.5,982.2 540.5,979.0 C540.5,975.8 534.2,975.1 534.2,971.4 Z" fill="none" stroke="#ddd" stroke-width="1.534" stroke-dasharray="5.5 5.5"/>
</g>
</svg>
</body></html>
